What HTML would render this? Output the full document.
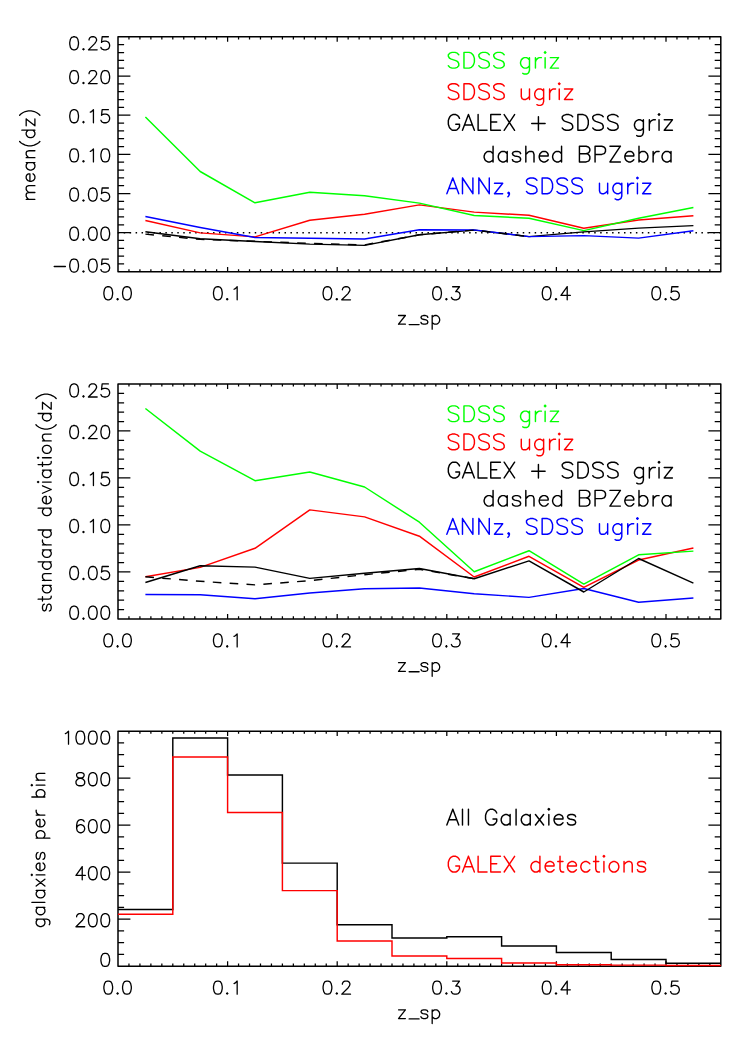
<!DOCTYPE html>
<html lang="en"><head><meta charset="utf-8"><title>Photometric redshift statistics vs z_sp</title>
<style>html,body{margin:0;padding:0;background:#fff;font-family:"Liberation Sans",sans-serif}svg{display:block}.sr{fill:#000;fill-opacity:0;stroke:none;font-family:"Liberation Sans",sans-serif;font-size:18px}</style>
</head><body>
<svg role="img" aria-label="Three stacked plots versus z_sp" width="756" height="1041" viewBox="0 0 756 1041">
<rect width="756" height="1041" fill="#fff"/>
<g id="panel-mean">
<path d="M128.96,271.82v-2.60M128.96,36.85v2.60M139.92,271.82v-2.60M139.92,36.85v2.60M150.88,271.82v-2.60M150.88,36.85v2.60M161.84,271.82v-2.60M161.84,36.85v2.60M172.80,271.82v-2.60M172.80,36.85v2.60M183.76,271.82v-2.60M183.76,36.85v2.60M194.72,271.82v-2.60M194.72,36.85v2.60M205.68,271.82v-2.60M205.68,36.85v2.60M216.64,271.82v-2.60M216.64,36.85v2.60M227.60,271.82v-4.90M227.60,36.85v4.90M238.56,271.82v-2.60M238.56,36.85v2.60M249.52,271.82v-2.60M249.52,36.85v2.60M260.48,271.82v-2.60M260.48,36.85v2.60M271.44,271.82v-2.60M271.44,36.85v2.60M282.40,271.82v-2.60M282.40,36.85v2.60M293.36,271.82v-2.60M293.36,36.85v2.60M304.32,271.82v-2.60M304.32,36.85v2.60M315.28,271.82v-2.60M315.28,36.85v2.60M326.24,271.82v-2.60M326.24,36.85v2.60M337.20,271.82v-4.90M337.20,36.85v4.90M348.16,271.82v-2.60M348.16,36.85v2.60M359.12,271.82v-2.60M359.12,36.85v2.60M370.08,271.82v-2.60M370.08,36.85v2.60M381.04,271.82v-2.60M381.04,36.85v2.60M392.00,271.82v-2.60M392.00,36.85v2.60M402.96,271.82v-2.60M402.96,36.85v2.60M413.92,271.82v-2.60M413.92,36.85v2.60M424.88,271.82v-2.60M424.88,36.85v2.60M435.84,271.82v-2.60M435.84,36.85v2.60M446.80,271.82v-4.90M446.80,36.85v4.90M457.76,271.82v-2.60M457.76,36.85v2.60M468.72,271.82v-2.60M468.72,36.85v2.60M479.68,271.82v-2.60M479.68,36.85v2.60M490.64,271.82v-2.60M490.64,36.85v2.60M501.60,271.82v-2.60M501.60,36.85v2.60M512.56,271.82v-2.60M512.56,36.85v2.60M523.52,271.82v-2.60M523.52,36.85v2.60M534.48,271.82v-2.60M534.48,36.85v2.60M545.44,271.82v-2.60M545.44,36.85v2.60M556.40,271.82v-4.90M556.40,36.85v4.90M567.36,271.82v-2.60M567.36,36.85v2.60M578.32,271.82v-2.60M578.32,36.85v2.60M589.28,271.82v-2.60M589.28,36.85v2.60M600.24,271.82v-2.60M600.24,36.85v2.60M611.20,271.82v-2.60M611.20,36.85v2.60M622.16,271.82v-2.60M622.16,36.85v2.60M633.12,271.82v-2.60M633.12,36.85v2.60M644.08,271.82v-2.60M644.08,36.85v2.60M655.04,271.82v-2.60M655.04,36.85v2.60M666.00,271.82v-4.90M666.00,36.85v4.90M676.96,271.82v-2.60M676.96,36.85v2.60M687.92,271.82v-2.60M687.92,36.85v2.60M698.88,271.82v-2.60M698.88,36.85v2.60M709.84,271.82v-2.60M709.84,36.85v2.60M118.00,263.99h6.10M720.80,263.99h-6.10M118.00,256.16h6.10M720.80,256.16h-6.10M118.00,248.32h6.10M720.80,248.32h-6.10M118.00,240.49h6.10M720.80,240.49h-6.10M118.00,232.66h12.40M720.80,232.66h-12.40M118.00,224.83h6.10M720.80,224.83h-6.10M118.00,216.99h6.10M720.80,216.99h-6.10M118.00,209.16h6.10M720.80,209.16h-6.10M118.00,201.33h6.10M720.80,201.33h-6.10M118.00,193.50h12.40M720.80,193.50h-12.40M118.00,185.66h6.10M720.80,185.66h-6.10M118.00,177.83h6.10M720.80,177.83h-6.10M118.00,170.00h6.10M720.80,170.00h-6.10M118.00,162.17h6.10M720.80,162.17h-6.10M118.00,154.33h12.40M720.80,154.33h-12.40M118.00,146.50h6.10M720.80,146.50h-6.10M118.00,138.67h6.10M720.80,138.67h-6.10M118.00,130.84h6.10M720.80,130.84h-6.10M118.00,123.01h6.10M720.80,123.01h-6.10M118.00,115.17h12.40M720.80,115.17h-12.40M118.00,107.34h6.10M720.80,107.34h-6.10M118.00,99.51h6.10M720.80,99.51h-6.10M118.00,91.68h6.10M720.80,91.68h-6.10M118.00,83.84h6.10M720.80,83.84h-6.10M118.00,76.01h12.40M720.80,76.01h-12.40M118.00,68.18h6.10M720.80,68.18h-6.10M118.00,60.35h6.10M720.80,60.35h-6.10M118.00,52.51h6.10M720.80,52.51h-6.10M118.00,44.68h6.10M720.80,44.68h-6.10" stroke="#000" stroke-width="1.25" fill="none"/>
<rect x="118.0" y="36.85" width="602.80" height="234.97" fill="none" stroke="#000" stroke-width="1.5" stroke-linejoin="round"/>
<path d="M107.63,286.74L105.76,287.36L104.52,289.23L103.89,292.34L103.89,294.21L104.52,297.33L105.76,299.20L107.63,299.82L108.88,299.82L110.75,299.20L111.99,297.33L112.62,294.21L112.62,292.34L111.99,289.23L110.75,287.36L108.88,286.74L107.63,286.74M117.60,298.57L116.98,299.20L117.60,299.82L118.22,299.20L117.60,298.57M126.32,286.74L124.45,287.36L123.21,289.23L122.58,292.34L122.58,294.21L123.21,297.33L124.45,299.20L126.32,299.82L127.57,299.82L129.44,299.20L130.68,297.33L131.31,294.21L131.31,292.34L130.68,289.23L129.44,287.36L127.57,286.74L126.32,286.74M217.23,286.74L215.36,287.36L214.12,289.23L213.49,292.34L213.49,294.21L214.12,297.33L215.36,299.20L217.23,299.82L218.48,299.82L220.35,299.20L221.59,297.33L222.22,294.21L222.22,292.34L221.59,289.23L220.35,287.36L218.48,286.74L217.23,286.74M227.20,298.57L226.58,299.20L227.20,299.82L227.82,299.20L227.20,298.57M234.05,289.23L235.30,288.61L237.17,286.74L237.17,299.82M326.83,286.74L324.96,287.36L323.72,289.23L323.09,292.34L323.09,294.21L323.72,297.33L324.96,299.20L326.83,299.82L328.08,299.82L329.95,299.20L331.19,297.33L331.82,294.21L331.82,292.34L331.19,289.23L329.95,287.36L328.08,286.74L326.83,286.74M336.80,298.57L336.18,299.20L336.80,299.82L337.42,299.20L336.80,298.57M342.41,289.85L342.41,289.23L343.03,287.98L343.65,287.36L344.90,286.74L347.39,286.74L348.64,287.36L349.26,287.98L349.88,289.23L349.88,290.47L349.26,291.72L348.01,293.59L341.78,299.82L350.51,299.82M436.43,286.74L434.56,287.36L433.32,289.23L432.69,292.34L432.69,294.21L433.32,297.33L434.56,299.20L436.43,299.82L437.68,299.82L439.55,299.20L440.79,297.33L441.42,294.21L441.42,292.34L440.79,289.23L439.55,287.36L437.68,286.74L436.43,286.74M446.40,298.57L445.78,299.20L446.40,299.82L447.02,299.20L446.40,298.57M452.63,286.74L459.48,286.74L455.75,291.72L457.61,291.72L458.86,292.34L459.48,292.97L460.11,294.84L460.11,296.08L459.48,297.95L458.24,299.20L456.37,299.82L454.50,299.82L452.63,299.20L452.01,298.57L451.38,297.33M546.03,286.74L544.16,287.36L542.92,289.23L542.29,292.34L542.29,294.21L542.92,297.33L544.16,299.20L546.03,299.82L547.28,299.82L549.15,299.20L550.39,297.33L551.02,294.21L551.02,292.34L550.39,289.23L549.15,287.36L547.28,286.74L546.03,286.74M556.00,298.57L555.38,299.20L556.00,299.82L556.62,299.20L556.00,298.57M567.21,286.74L560.98,295.46L570.33,295.46M567.21,286.74L567.21,299.82M655.63,286.74L653.76,287.36L652.52,289.23L651.89,292.34L651.89,294.21L652.52,297.33L653.76,299.20L655.63,299.82L656.88,299.82L658.75,299.20L659.99,297.33L660.62,294.21L660.62,292.34L659.99,289.23L658.75,287.36L656.88,286.74L655.63,286.74M665.60,298.57L664.98,299.20L665.60,299.82L666.22,299.20L665.60,298.57M678.06,286.74L671.83,286.74L671.21,292.34L671.83,291.72L673.70,291.10L675.57,291.10L677.44,291.72L678.68,292.97L679.31,294.84L679.31,296.08L678.68,297.95L677.44,299.20L675.57,299.82L673.70,299.82L671.83,299.20L671.21,298.57L670.58,297.33M405.39,315.50L398.54,324.22M398.54,315.50L405.39,315.50M398.54,324.22L405.39,324.22M409.13,324.59L419.10,324.59M427.82,317.37L427.20,316.12L425.33,315.50L423.46,315.50L421.59,316.12L420.97,317.37L421.59,318.61L422.84,319.24L425.95,319.86L427.20,320.48L427.82,321.73L427.82,322.35L427.20,323.60L425.33,324.22L423.46,324.22L421.59,323.60L420.97,322.35M432.18,315.50L432.18,329.20M432.18,317.37L433.43,316.12L434.67,315.50L436.54,315.50L437.79,316.12L439.04,317.37L439.66,319.24L439.66,320.48L439.04,322.35L437.79,323.60L436.54,324.22L434.67,324.22L433.43,323.60L432.18,322.35M54.18,266.51L65.40,266.51M73.50,259.04L71.63,259.66L70.38,261.53L69.76,264.64L69.76,266.51L70.38,269.63L71.63,271.50L73.50,272.12L74.74,272.12L76.61,271.50L77.86,269.63L78.48,266.51L78.48,264.64L77.86,261.53L76.61,259.66L74.74,259.04L73.50,259.04M83.47,270.87L82.84,271.50L83.47,272.12L84.09,271.50L83.47,270.87M92.19,259.04L90.32,259.66L89.07,261.53L88.45,264.64L88.45,266.51L89.07,269.63L90.32,271.50L92.19,272.12L93.43,272.12L95.30,271.50L96.55,269.63L97.17,266.51L97.17,264.64L96.55,261.53L95.30,259.66L93.43,259.04L92.19,259.04M108.39,259.04L102.16,259.04L101.53,264.64L102.16,264.02L104.02,263.40L105.89,263.40L107.76,264.02L109.01,265.27L109.63,267.14L109.63,268.38L109.01,270.25L107.76,271.50L105.89,272.12L104.02,272.12L102.16,271.50L101.53,270.87L100.91,269.63M73.50,227.18L71.63,227.80L70.38,229.67L69.76,232.78L69.76,234.65L70.38,237.77L71.63,239.64L73.50,240.26L74.74,240.26L76.61,239.64L77.86,237.77L78.48,234.65L78.48,232.78L77.86,229.67L76.61,227.80L74.74,227.18L73.50,227.18M83.47,239.01L82.84,239.64L83.47,240.26L84.09,239.64L83.47,239.01M92.19,227.18L90.32,227.80L89.07,229.67L88.45,232.78L88.45,234.65L89.07,237.77L90.32,239.64L92.19,240.26L93.43,240.26L95.30,239.64L96.55,237.77L97.17,234.65L97.17,232.78L96.55,229.67L95.30,227.80L93.43,227.18L92.19,227.18M104.65,227.18L102.78,227.80L101.53,229.67L100.91,232.78L100.91,234.65L101.53,237.77L102.78,239.64L104.65,240.26L105.89,240.26L107.76,239.64L109.01,237.77L109.63,234.65L109.63,232.78L109.01,229.67L107.76,227.80L105.89,227.18L104.65,227.18M73.50,188.01L71.63,188.64L70.38,190.51L69.76,193.62L69.76,195.49L70.38,198.60L71.63,200.47L73.50,201.10L74.74,201.10L76.61,200.47L77.86,198.60L78.48,195.49L78.48,193.62L77.86,190.51L76.61,188.64L74.74,188.01L73.50,188.01M83.47,199.85L82.84,200.47L83.47,201.10L84.09,200.47L83.47,199.85M92.19,188.01L90.32,188.64L89.07,190.51L88.45,193.62L88.45,195.49L89.07,198.60L90.32,200.47L92.19,201.10L93.43,201.10L95.30,200.47L96.55,198.60L97.17,195.49L97.17,193.62L96.55,190.51L95.30,188.64L93.43,188.01L92.19,188.01M108.39,188.01L102.16,188.01L101.53,193.62L102.16,193.00L104.02,192.37L105.89,192.37L107.76,193.00L109.01,194.24L109.63,196.11L109.63,197.36L109.01,199.23L107.76,200.47L105.89,201.10L104.02,201.10L102.16,200.47L101.53,199.85L100.91,198.60M73.50,148.85L71.63,149.47L70.38,151.34L69.76,154.46L69.76,156.33L70.38,159.44L71.63,161.31L73.50,161.93L74.74,161.93L76.61,161.31L77.86,159.44L78.48,156.33L78.48,154.46L77.86,151.34L76.61,149.47L74.74,148.85L73.50,148.85M83.47,160.69L82.84,161.31L83.47,161.93L84.09,161.31L83.47,160.69M90.32,151.34L91.56,150.72L93.43,148.85L93.43,161.93M104.65,148.85L102.78,149.47L101.53,151.34L100.91,154.46L100.91,156.33L101.53,159.44L102.78,161.31L104.65,161.93L105.89,161.93L107.76,161.31L109.01,159.44L109.63,156.33L109.63,154.46L109.01,151.34L107.76,149.47L105.89,148.85L104.65,148.85M73.50,109.69L71.63,110.31L70.38,112.18L69.76,115.30L69.76,117.17L70.38,120.28L71.63,122.15L73.50,122.77L74.74,122.77L76.61,122.15L77.86,120.28L78.48,117.17L78.48,115.30L77.86,112.18L76.61,110.31L74.74,109.69L73.50,109.69M83.47,121.53L82.84,122.15L83.47,122.77L84.09,122.15L83.47,121.53M90.32,112.18L91.56,111.56L93.43,109.69L93.43,122.77M108.39,109.69L102.16,109.69L101.53,115.30L102.16,114.67L104.02,114.05L105.89,114.05L107.76,114.67L109.01,115.92L109.63,117.79L109.63,119.04L109.01,120.90L107.76,122.15L105.89,122.77L104.02,122.77L102.16,122.15L101.53,121.53L100.91,120.28M73.50,70.53L71.63,71.15L70.38,73.02L69.76,76.14L69.76,78.00L70.38,81.12L71.63,82.99L73.50,83.61L74.74,83.61L76.61,82.99L77.86,81.12L78.48,78.00L78.48,76.14L77.86,73.02L76.61,71.15L74.74,70.53L73.50,70.53M83.47,82.37L82.84,82.99L83.47,83.61L84.09,82.99L83.47,82.37M89.07,73.64L89.07,73.02L89.69,71.77L90.32,71.15L91.56,70.53L94.06,70.53L95.30,71.15L95.92,71.77L96.55,73.02L96.55,74.27L95.92,75.51L94.68,77.38L88.45,83.61L97.17,83.61M104.65,70.53L102.78,71.15L101.53,73.02L100.91,76.14L100.91,78.00L101.53,81.12L102.78,82.99L104.65,83.61L105.89,83.61L107.76,82.99L109.01,81.12L109.63,78.00L109.63,76.14L109.01,73.02L107.76,71.15L105.89,70.53L104.65,70.53M73.50,36.77L71.63,37.39L70.38,39.26L69.76,42.37L69.76,44.24L70.38,47.36L71.63,49.23L73.50,49.85L74.74,49.85L76.61,49.23L77.86,47.36L78.48,44.24L78.48,42.37L77.86,39.26L76.61,37.39L74.74,36.77L73.50,36.77M83.47,48.60L82.84,49.23L83.47,49.85L84.09,49.23L83.47,48.60M89.07,39.88L89.07,39.26L89.69,38.01L90.32,37.39L91.56,36.77L94.06,36.77L95.30,37.39L95.92,38.01L96.55,39.26L96.55,40.51L95.92,41.75L94.68,43.62L88.45,49.85L97.17,49.85M108.39,36.77L102.16,36.77L101.53,42.37L102.16,41.75L104.02,41.13L105.89,41.13L107.76,41.75L109.01,43.00L109.63,44.87L109.63,46.11L109.01,47.98L107.76,49.23L105.89,49.85L104.02,49.85L102.16,49.23L101.53,48.60L100.91,47.36M26.18,199.37L34.90,199.37M28.67,199.37L26.80,197.50L26.18,196.25L26.18,194.38L26.80,193.14L28.67,192.52L34.90,192.52M28.67,192.52L26.80,190.65L26.18,189.40L26.18,187.53L26.80,186.29L28.67,185.66L34.90,185.66M29.92,181.30L29.92,173.83L28.67,173.83L27.42,174.45L26.80,175.07L26.18,176.32L26.18,178.19L26.80,179.43L28.05,180.68L29.92,181.30L31.16,181.30L33.03,180.68L34.28,179.43L34.90,178.19L34.90,176.32L34.28,175.07L33.03,173.83M26.18,162.61L34.90,162.61M28.05,162.61L26.80,163.86L26.18,165.10L26.18,166.97L26.80,168.22L28.05,169.46L29.92,170.09L31.16,170.09L33.03,169.46L34.28,168.22L34.90,166.97L34.90,165.10L34.28,163.86L33.03,162.61M26.18,157.63L34.90,157.63M28.67,157.63L26.80,155.76L26.18,154.51L26.18,152.64L26.80,151.40L28.67,150.77L34.90,150.77M19.64,141.43L20.88,142.68L22.75,143.92L25.24,145.17L28.36,145.79L31.16,145.79L34.28,145.17L36.77,143.92L38.64,142.68L39.88,141.43M21.82,130.22L34.90,130.22M28.05,130.22L26.80,131.46L26.18,132.71L26.18,134.58L26.80,135.82L28.05,137.07L29.92,137.69L31.16,137.69L33.03,137.07L34.28,135.82L34.90,134.58L34.90,132.71L34.28,131.46L33.03,130.22M26.18,119.00L34.90,125.85M26.18,125.85L26.18,119.00M34.90,125.85L34.90,119.00M19.64,115.26L20.88,114.02L22.75,112.77L25.24,111.53L28.36,110.90L31.16,110.90L34.28,111.53L36.77,112.77L38.64,114.02L39.88,115.26" stroke="#000" stroke-width="1.3" fill="none" stroke-linecap="round" stroke-linejoin="round"/>
<line x1="117.73" y1="232.86" x2="720.80" y2="232.86" stroke="#000" stroke-width="1.5" stroke-dasharray="1.5 4.456"/>
<polyline points="145.40,220.50 200.20,232.90 255.00,236.90 309.80,220.30 364.60,214.20 419.40,204.90 474.20,212.10 529.00,215.30 583.80,228.30 638.60,220.00 693.40,215.80" fill="none" stroke="#ff0000" stroke-width="1.45" stroke-linejoin="round"/>
<polyline points="145.40,116.90 200.20,171.50 255.00,202.80 309.80,192.20 364.60,195.70 419.40,203.10 474.20,215.50 529.00,218.20 583.80,230.60 638.60,218.30 693.40,207.50" fill="none" stroke="#00ff00" stroke-width="1.45" stroke-linejoin="round"/>
<polyline points="145.40,231.80 200.20,238.80 255.00,241.50 309.80,244.10 364.60,245.40 419.40,234.80 474.20,230.10 529.00,236.60 583.80,231.90 638.60,228.10 693.40,225.60" fill="none" stroke="#000000" stroke-width="1.45" stroke-linejoin="round"/>
<polyline points="145.40,216.50 200.20,227.50 255.00,237.50 309.80,238.30 364.60,239.00 419.40,229.80 474.20,229.90 529.00,236.60 583.80,235.60 638.60,238.10 693.40,230.80" fill="none" stroke="#0000ff" stroke-width="1.45" stroke-linejoin="round"/>
<polyline points="145.40,234.10 200.20,239.40 255.00,241.30 309.80,243.40 364.60,244.90 419.40,234.80 474.20,230.10 529.00,236.60" fill="none" stroke="#000000" stroke-width="1.45" stroke-linejoin="round" stroke-dasharray="8.6 8.3"/>
<path d="M458.76,54.64L457.27,53.14L455.03,52.39L452.06,52.39L449.82,53.14L448.33,54.64L448.33,56.13L449.08,57.63L449.82,58.38L451.31,59.12L455.78,60.62L457.27,61.37L458.01,62.12L458.76,63.61L458.76,65.86L457.27,67.35L455.03,68.10L452.06,68.10L449.82,67.35L448.33,65.86M463.97,52.39L463.97,68.10M463.97,52.39L469.18,52.39L471.41,53.14L472.90,54.64L473.65,56.13L474.39,58.38L474.39,62.12L473.65,64.36L472.90,65.86L471.41,67.35L469.18,68.10L463.97,68.10M489.28,54.64L487.79,53.14L485.56,52.39L482.58,52.39L480.35,53.14L478.86,54.64L478.86,56.13L479.60,57.63L480.35,58.38L481.84,59.12L486.30,60.62L487.79,61.37L488.54,62.12L489.28,63.61L489.28,65.86L487.79,67.35L485.56,68.10L482.58,68.10L480.35,67.35L478.86,65.86M504.17,54.64L502.68,53.14L500.45,52.39L497.47,52.39L495.24,53.14L493.75,54.64L493.75,56.13L494.49,57.63L495.24,58.38L496.73,59.12L501.19,60.62L502.68,61.37L503.43,62.12L504.17,63.61L504.17,65.86L502.68,67.35L500.45,68.10L497.47,68.10L495.24,67.35L493.75,65.86M529.48,57.63L529.48,70.34L528.74,72.59L528.00,73.34L526.51,74.08L524.27,74.08L522.78,73.34M529.48,59.87L528.00,58.38L526.51,57.63L524.27,57.63L522.78,58.38L521.29,59.87L520.55,62.12L520.55,63.61L521.29,65.86L522.78,67.35L524.27,68.10L526.51,68.10L528.00,67.35L529.48,65.86M535.44,57.63L535.44,68.10M535.44,62.12L536.18,59.87L537.67,58.38L539.16,57.63L541.40,57.63M544.37,52.39L545.12,53.14L545.86,52.39L545.12,51.64L544.37,52.39M545.12,57.63L545.12,68.10M558.52,57.63L550.33,68.10M550.33,57.63L558.52,57.63M550.33,68.10L558.52,68.10" stroke="#00ff00" stroke-width="1.45" fill="none" stroke-linecap="round" stroke-linejoin="round"/>
<path d="M458.76,85.94L457.27,84.44L455.03,83.69L452.06,83.69L449.82,84.44L448.33,85.94L448.33,87.43L449.08,88.93L449.82,89.68L451.31,90.42L455.78,91.92L457.27,92.67L458.01,93.42L458.76,94.91L458.76,97.16L457.27,98.65L455.03,99.40L452.06,99.40L449.82,98.65L448.33,97.16M463.97,83.69L463.97,99.40M463.97,83.69L469.18,83.69L471.41,84.44L472.90,85.94L473.65,87.43L474.39,89.68L474.39,93.42L473.65,95.66L472.90,97.16L471.41,98.65L469.18,99.40L463.97,99.40M489.28,85.94L487.79,84.44L485.56,83.69L482.58,83.69L480.35,84.44L478.86,85.94L478.86,87.43L479.60,88.93L480.35,89.68L481.84,90.42L486.30,91.92L487.79,92.67L488.54,93.42L489.28,94.91L489.28,97.16L487.79,98.65L485.56,99.40L482.58,99.40L480.35,98.65L478.86,97.16M504.17,85.94L502.68,84.44L500.45,83.69L497.47,83.69L495.24,84.44L493.75,85.94L493.75,87.43L494.49,88.93L495.24,89.68L496.73,90.42L501.19,91.92L502.68,92.67L503.43,93.42L504.17,94.91L504.17,97.16L502.68,98.65L500.45,99.40L497.47,99.40L495.24,98.65L493.75,97.16M521.29,88.93L521.29,96.41L522.04,98.65L523.53,99.40L525.76,99.40L527.25,98.65L529.48,96.41M529.48,88.93L529.48,99.40M543.63,88.93L543.63,101.64L542.88,103.89L542.14,104.64L540.65,105.38L538.42,105.38L536.93,104.64M543.63,91.17L542.14,89.68L540.65,88.93L538.42,88.93L536.93,89.68L535.44,91.17L534.70,93.42L534.70,94.91L535.44,97.16L536.93,98.65L538.42,99.40L540.65,99.40L542.14,98.65L543.63,97.16M549.59,88.93L549.59,99.40M549.59,93.42L550.33,91.17L551.82,89.68L553.31,88.93L555.54,88.93M558.52,83.69L559.26,84.44L560.01,83.69L559.26,82.94L558.52,83.69M559.26,88.93L559.26,99.40M572.67,88.93L564.48,99.40M564.48,88.93L572.67,88.93M564.48,99.40L572.67,99.40" stroke="#ff0000" stroke-width="1.45" fill="none" stroke-linecap="round" stroke-linejoin="round"/>
<path d="M459.50,118.33L458.76,116.84L457.27,115.34L455.78,114.59L452.80,114.59L451.31,115.34L449.82,116.84L449.08,118.33L448.33,120.58L448.33,124.32L449.08,126.56L449.82,128.06L451.31,129.55L452.80,130.30L455.78,130.30L457.27,129.55L458.76,128.06L459.50,126.56L459.50,124.32M455.78,124.32L459.50,124.32M468.44,114.59L462.48,130.30M468.44,114.59L474.39,130.30M464.71,125.06L472.16,125.06M478.11,114.59L478.11,130.30M478.11,130.30L487.05,130.30M490.77,114.59L490.77,130.30M490.77,114.59L500.45,114.59M490.77,122.07L496.73,122.07M490.77,130.30L500.45,130.30M504.17,114.59L514.59,130.30M514.59,114.59L504.17,130.30M538.42,116.84L538.42,130.30M531.72,123.57L545.12,123.57M572.67,116.84L571.18,115.34L568.94,114.59L565.96,114.59L563.73,115.34L562.24,116.84L562.24,118.33L562.99,119.83L563.73,120.58L565.22,121.32L569.69,122.82L571.18,123.57L571.92,124.32L572.67,125.81L572.67,128.06L571.18,129.55L568.94,130.30L565.96,130.30L563.73,129.55L562.24,128.06M577.88,114.59L577.88,130.30M577.88,114.59L583.09,114.59L585.32,115.34L586.81,116.84L587.56,118.33L588.30,120.58L588.30,124.32L587.56,126.56L586.81,128.06L585.32,129.55L583.09,130.30L577.88,130.30M603.19,116.84L601.70,115.34L599.47,114.59L596.49,114.59L594.26,115.34L592.77,116.84L592.77,118.33L593.51,119.83L594.26,120.58L595.74,121.32L600.21,122.82L601.70,123.57L602.45,124.32L603.19,125.81L603.19,128.06L601.70,129.55L599.47,130.30L596.49,130.30L594.26,129.55L592.77,128.06M618.08,116.84L616.59,115.34L614.36,114.59L611.38,114.59L609.15,115.34L607.66,116.84L607.66,118.33L608.40,119.83L609.15,120.58L610.63,121.32L615.10,122.82L616.59,123.57L617.34,124.32L618.08,125.81L618.08,128.06L616.59,129.55L614.36,130.30L611.38,130.30L609.15,129.55L607.66,128.06M643.39,119.83L643.39,132.54L642.65,134.79L641.90,135.54L640.41,136.28L638.18,136.28L636.69,135.54M643.39,122.07L641.90,120.58L640.41,119.83L638.18,119.83L636.69,120.58L635.20,122.07L634.46,124.32L634.46,125.81L635.20,128.06L636.69,129.55L638.18,130.30L640.41,130.30L641.90,129.55L643.39,128.06M649.35,119.83L649.35,130.30M649.35,124.32L650.09,122.07L651.58,120.58L653.07,119.83L655.30,119.83M658.28,114.59L659.03,115.34L659.77,114.59L659.03,113.84L658.28,114.59M659.03,119.83L659.03,130.30M672.43,119.83L664.24,130.30M664.24,119.83L672.43,119.83M664.24,130.30L672.43,130.30" stroke="#000000" stroke-width="1.45" fill="none" stroke-linecap="round" stroke-linejoin="round"/>
<path d="M493.07,146.19L493.07,161.90M493.07,153.67L491.58,152.18L490.09,151.43L487.86,151.43L486.37,152.18L484.88,153.67L484.13,155.92L484.13,157.41L484.88,159.66L486.37,161.15L487.86,161.90L490.09,161.90L491.58,161.15L493.07,159.66M507.21,151.43L507.21,161.90M507.21,153.67L505.72,152.18L504.23,151.43L502.00,151.43L500.51,152.18L499.02,153.67L498.28,155.92L498.28,157.41L499.02,159.66L500.51,161.15L502.00,161.90L504.23,161.90L505.72,161.15L507.21,159.66M520.61,153.67L519.87,152.18L517.64,151.43L515.40,151.43L513.17,152.18L512.42,153.67L513.17,155.17L514.66,155.92L518.38,156.66L519.87,157.41L520.61,158.91L520.61,159.66L519.87,161.15L517.64,161.90L515.40,161.90L513.17,161.15L512.42,159.66M525.83,146.19L525.83,161.90M525.83,154.42L528.06,152.18L529.55,151.43L531.78,151.43L533.27,152.18L534.01,154.42L534.01,161.90M539.23,155.92L548.16,155.92L548.16,154.42L547.42,152.92L546.67,152.18L545.18,151.43L542.95,151.43L541.46,152.18L539.97,153.67L539.23,155.92L539.23,157.41L539.97,159.66L541.46,161.15L542.95,161.90L545.18,161.90L546.67,161.15L548.16,159.66M561.56,146.19L561.56,161.90M561.56,153.67L560.07,152.18L558.58,151.43L556.35,151.43L554.86,152.18L553.37,153.67L552.63,155.92L552.63,157.41L553.37,159.66L554.86,161.15L556.35,161.90L558.58,161.90L560.07,161.15L561.56,159.66M579.43,146.19L579.43,161.90M579.43,146.19L586.13,146.19L588.36,146.94L589.11,147.69L589.85,149.18L589.85,150.68L589.11,152.18L588.36,152.92L586.13,153.67M579.43,153.67L586.13,153.67L588.36,154.42L589.11,155.17L589.85,156.66L589.85,158.91L589.11,160.40L588.36,161.15L586.13,161.90L579.43,161.90M595.06,146.19L595.06,161.90M595.06,146.19L601.76,146.19L604.00,146.94L604.74,147.69L605.49,149.18L605.49,151.43L604.74,152.92L604.00,153.67L601.76,154.42L595.06,154.42M620.38,146.19L609.95,161.90M609.95,146.19L620.38,146.19M609.95,161.90L620.38,161.90M624.84,155.92L633.78,155.92L633.78,154.42L633.03,152.92L632.29,152.18L630.80,151.43L628.57,151.43L627.08,152.18L625.59,153.67L624.84,155.92L624.84,157.41L625.59,159.66L627.08,161.15L628.57,161.90L630.80,161.90L632.29,161.15L633.78,159.66M638.99,146.19L638.99,161.90M638.99,153.67L640.48,152.18L641.97,151.43L644.20,151.43L645.69,152.18L647.18,153.67L647.92,155.92L647.92,157.41L647.18,159.66L645.69,161.15L644.20,161.90L641.97,161.90L640.48,161.15L638.99,159.66M653.13,151.43L653.13,161.90M653.13,155.92L653.88,153.67L655.37,152.18L656.86,151.43L659.09,151.43M671.00,151.43L671.00,161.90M671.00,153.67L669.51,152.18L668.02,151.43L665.79,151.43L664.30,152.18L662.81,153.67L662.07,155.92L662.07,157.41L662.81,159.66L664.30,161.15L665.79,161.90L668.02,161.90L669.51,161.15L671.00,159.66" stroke="#000000" stroke-width="1.45" fill="none" stroke-linecap="round" stroke-linejoin="round"/>
<path d="M452.80,177.99L446.84,193.70M452.80,177.99L458.76,193.70M449.08,188.46L456.52,188.46M462.48,177.99L462.48,193.70M462.48,177.99L472.90,193.70M472.90,177.99L472.90,193.70M478.86,177.99L478.86,193.70M478.86,177.99L489.28,193.70M489.28,177.99L489.28,193.70M502.68,183.23L494.49,193.70M494.49,183.23L502.68,183.23M494.49,193.70L502.68,193.70M509.38,192.95L508.64,193.70L507.89,192.95L508.64,192.20L509.38,192.95L509.38,194.45L508.64,195.94L507.89,196.69M536.93,180.24L535.44,178.74L533.21,177.99L530.23,177.99L528.00,178.74L526.51,180.24L526.51,181.73L527.25,183.23L528.00,183.98L529.48,184.72L533.95,186.22L535.44,186.97L536.18,187.72L536.93,189.21L536.93,191.46L535.44,192.95L533.21,193.70L530.23,193.70L528.00,192.95L526.51,191.46M542.14,177.99L542.14,193.70M542.14,177.99L547.35,177.99L549.59,178.74L551.07,180.24L551.82,181.73L552.56,183.98L552.56,187.72L551.82,189.96L551.07,191.46L549.59,192.95L547.35,193.70L542.14,193.70M567.45,180.24L565.96,178.74L563.73,177.99L560.75,177.99L558.52,178.74L557.03,180.24L557.03,181.73L557.78,183.23L558.52,183.98L560.01,184.72L564.48,186.22L565.96,186.97L566.71,187.72L567.45,189.21L567.45,191.46L565.96,192.95L563.73,193.70L560.75,193.70L558.52,192.95L557.03,191.46M582.34,180.24L580.85,178.74L578.62,177.99L575.64,177.99L573.41,178.74L571.92,180.24L571.92,181.73L572.67,183.23L573.41,183.98L574.90,184.72L579.37,186.22L580.85,186.97L581.60,187.72L582.34,189.21L582.34,191.46L580.85,192.95L578.62,193.70L575.64,193.70L573.41,192.95L571.92,191.46M599.47,183.23L599.47,190.71L600.21,192.95L601.70,193.70L603.93,193.70L605.42,192.95L607.66,190.71M607.66,183.23L607.66,193.70M621.80,183.23L621.80,195.94L621.06,198.19L620.31,198.94L618.82,199.68L616.59,199.68L615.10,198.94M621.80,185.47L620.31,183.98L618.82,183.23L616.59,183.23L615.10,183.98L613.61,185.47L612.87,187.72L612.87,189.21L613.61,191.46L615.10,192.95L616.59,193.70L618.82,193.70L620.31,192.95L621.80,191.46M627.76,183.23L627.76,193.70M627.76,187.72L628.50,185.47L629.99,183.98L631.48,183.23L633.71,183.23M636.69,177.99L637.44,178.74L638.18,177.99L637.44,177.24L636.69,177.99M637.44,183.23L637.44,193.70M650.84,183.23L642.65,193.70M642.65,183.23L650.84,183.23M642.65,193.70L650.84,193.70" stroke="#0000ff" stroke-width="1.45" fill="none" stroke-linecap="round" stroke-linejoin="round"/>
</g>
<g id="panel-std">
<path d="M128.96,618.97v-2.60M128.96,384.00v2.60M139.92,618.97v-2.60M139.92,384.00v2.60M150.88,618.97v-2.60M150.88,384.00v2.60M161.84,618.97v-2.60M161.84,384.00v2.60M172.80,618.97v-2.60M172.80,384.00v2.60M183.76,618.97v-2.60M183.76,384.00v2.60M194.72,618.97v-2.60M194.72,384.00v2.60M205.68,618.97v-2.60M205.68,384.00v2.60M216.64,618.97v-2.60M216.64,384.00v2.60M227.60,618.97v-4.90M227.60,384.00v4.90M238.56,618.97v-2.60M238.56,384.00v2.60M249.52,618.97v-2.60M249.52,384.00v2.60M260.48,618.97v-2.60M260.48,384.00v2.60M271.44,618.97v-2.60M271.44,384.00v2.60M282.40,618.97v-2.60M282.40,384.00v2.60M293.36,618.97v-2.60M293.36,384.00v2.60M304.32,618.97v-2.60M304.32,384.00v2.60M315.28,618.97v-2.60M315.28,384.00v2.60M326.24,618.97v-2.60M326.24,384.00v2.60M337.20,618.97v-4.90M337.20,384.00v4.90M348.16,618.97v-2.60M348.16,384.00v2.60M359.12,618.97v-2.60M359.12,384.00v2.60M370.08,618.97v-2.60M370.08,384.00v2.60M381.04,618.97v-2.60M381.04,384.00v2.60M392.00,618.97v-2.60M392.00,384.00v2.60M402.96,618.97v-2.60M402.96,384.00v2.60M413.92,618.97v-2.60M413.92,384.00v2.60M424.88,618.97v-2.60M424.88,384.00v2.60M435.84,618.97v-2.60M435.84,384.00v2.60M446.80,618.97v-4.90M446.80,384.00v4.90M457.76,618.97v-2.60M457.76,384.00v2.60M468.72,618.97v-2.60M468.72,384.00v2.60M479.68,618.97v-2.60M479.68,384.00v2.60M490.64,618.97v-2.60M490.64,384.00v2.60M501.60,618.97v-2.60M501.60,384.00v2.60M512.56,618.97v-2.60M512.56,384.00v2.60M523.52,618.97v-2.60M523.52,384.00v2.60M534.48,618.97v-2.60M534.48,384.00v2.60M545.44,618.97v-2.60M545.44,384.00v2.60M556.40,618.97v-4.90M556.40,384.00v4.90M567.36,618.97v-2.60M567.36,384.00v2.60M578.32,618.97v-2.60M578.32,384.00v2.60M589.28,618.97v-2.60M589.28,384.00v2.60M600.24,618.97v-2.60M600.24,384.00v2.60M611.20,618.97v-2.60M611.20,384.00v2.60M622.16,618.97v-2.60M622.16,384.00v2.60M633.12,618.97v-2.60M633.12,384.00v2.60M644.08,618.97v-2.60M644.08,384.00v2.60M655.04,618.97v-2.60M655.04,384.00v2.60M666.00,618.97v-4.90M666.00,384.00v4.90M676.96,618.97v-2.60M676.96,384.00v2.60M687.92,618.97v-2.60M687.92,384.00v2.60M698.88,618.97v-2.60M698.88,384.00v2.60M709.84,618.97v-2.60M709.84,384.00v2.60M118.00,609.57h6.10M720.80,609.57h-6.10M118.00,600.17h6.10M720.80,600.17h-6.10M118.00,590.77h6.10M720.80,590.77h-6.10M118.00,581.37h6.10M720.80,581.37h-6.10M118.00,571.98h12.40M720.80,571.98h-12.40M118.00,562.58h6.10M720.80,562.58h-6.10M118.00,553.18h6.10M720.80,553.18h-6.10M118.00,543.78h6.10M720.80,543.78h-6.10M118.00,534.38h6.10M720.80,534.38h-6.10M118.00,524.98h12.40M720.80,524.98h-12.40M118.00,515.58h6.10M720.80,515.58h-6.10M118.00,506.18h6.10M720.80,506.18h-6.10M118.00,496.79h6.10M720.80,496.79h-6.10M118.00,487.39h6.10M720.80,487.39h-6.10M118.00,477.99h12.40M720.80,477.99h-12.40M118.00,468.59h6.10M720.80,468.59h-6.10M118.00,459.19h6.10M720.80,459.19h-6.10M118.00,449.79h6.10M720.80,449.79h-6.10M118.00,440.39h6.10M720.80,440.39h-6.10M118.00,430.99h12.40M720.80,430.99h-12.40M118.00,421.60h6.10M720.80,421.60h-6.10M118.00,412.20h6.10M720.80,412.20h-6.10M118.00,402.80h6.10M720.80,402.80h-6.10M118.00,393.40h6.10M720.80,393.40h-6.10" stroke="#000" stroke-width="1.25" fill="none"/>
<rect x="118.0" y="384.0" width="602.80" height="234.97" fill="none" stroke="#000" stroke-width="1.5" stroke-linejoin="round"/>
<path d="M107.63,633.89L105.76,634.51L104.52,636.38L103.89,639.49L103.89,641.36L104.52,644.48L105.76,646.35L107.63,646.97L108.88,646.97L110.75,646.35L111.99,644.48L112.62,641.36L112.62,639.49L111.99,636.38L110.75,634.51L108.88,633.89L107.63,633.89M117.60,645.72L116.98,646.35L117.60,646.97L118.22,646.35L117.60,645.72M126.32,633.89L124.45,634.51L123.21,636.38L122.58,639.49L122.58,641.36L123.21,644.48L124.45,646.35L126.32,646.97L127.57,646.97L129.44,646.35L130.68,644.48L131.31,641.36L131.31,639.49L130.68,636.38L129.44,634.51L127.57,633.89L126.32,633.89M217.23,633.89L215.36,634.51L214.12,636.38L213.49,639.49L213.49,641.36L214.12,644.48L215.36,646.35L217.23,646.97L218.48,646.97L220.35,646.35L221.59,644.48L222.22,641.36L222.22,639.49L221.59,636.38L220.35,634.51L218.48,633.89L217.23,633.89M227.20,645.72L226.58,646.35L227.20,646.97L227.82,646.35L227.20,645.72M234.05,636.38L235.30,635.76L237.17,633.89L237.17,646.97M326.83,633.89L324.96,634.51L323.72,636.38L323.09,639.49L323.09,641.36L323.72,644.48L324.96,646.35L326.83,646.97L328.08,646.97L329.95,646.35L331.19,644.48L331.82,641.36L331.82,639.49L331.19,636.38L329.95,634.51L328.08,633.89L326.83,633.89M336.80,645.72L336.18,646.35L336.80,646.97L337.42,646.35L336.80,645.72M342.41,637.00L342.41,636.38L343.03,635.13L343.65,634.51L344.90,633.89L347.39,633.89L348.64,634.51L349.26,635.13L349.88,636.38L349.88,637.62L349.26,638.87L348.01,640.74L341.78,646.97L350.51,646.97M436.43,633.89L434.56,634.51L433.32,636.38L432.69,639.49L432.69,641.36L433.32,644.48L434.56,646.35L436.43,646.97L437.68,646.97L439.55,646.35L440.79,644.48L441.42,641.36L441.42,639.49L440.79,636.38L439.55,634.51L437.68,633.89L436.43,633.89M446.40,645.72L445.78,646.35L446.40,646.97L447.02,646.35L446.40,645.72M452.63,633.89L459.48,633.89L455.75,638.87L457.61,638.87L458.86,639.49L459.48,640.12L460.11,641.99L460.11,643.23L459.48,645.10L458.24,646.35L456.37,646.97L454.50,646.97L452.63,646.35L452.01,645.72L451.38,644.48M546.03,633.89L544.16,634.51L542.92,636.38L542.29,639.49L542.29,641.36L542.92,644.48L544.16,646.35L546.03,646.97L547.28,646.97L549.15,646.35L550.39,644.48L551.02,641.36L551.02,639.49L550.39,636.38L549.15,634.51L547.28,633.89L546.03,633.89M556.00,645.72L555.38,646.35L556.00,646.97L556.62,646.35L556.00,645.72M567.21,633.89L560.98,642.61L570.33,642.61M567.21,633.89L567.21,646.97M655.63,633.89L653.76,634.51L652.52,636.38L651.89,639.49L651.89,641.36L652.52,644.48L653.76,646.35L655.63,646.97L656.88,646.97L658.75,646.35L659.99,644.48L660.62,641.36L660.62,639.49L659.99,636.38L658.75,634.51L656.88,633.89L655.63,633.89M665.60,645.72L664.98,646.35L665.60,646.97L666.22,646.35L665.60,645.72M678.06,633.89L671.83,633.89L671.21,639.49L671.83,638.87L673.70,638.25L675.57,638.25L677.44,638.87L678.68,640.12L679.31,641.99L679.31,643.23L678.68,645.10L677.44,646.35L675.57,646.97L673.70,646.97L671.83,646.35L671.21,645.72L670.58,644.48M405.39,662.65L398.54,671.37M398.54,662.65L405.39,662.65M398.54,671.37L405.39,671.37M409.13,671.74L419.10,671.74M427.82,664.52L427.20,663.27L425.33,662.65L423.46,662.65L421.59,663.27L420.97,664.52L421.59,665.76L422.84,666.39L425.95,667.01L427.20,667.63L427.82,668.88L427.82,669.50L427.20,670.75L425.33,671.37L423.46,671.37L421.59,670.75L420.97,669.50M432.18,662.65L432.18,676.35M432.18,664.52L433.43,663.27L434.67,662.65L436.54,662.65L437.79,663.27L439.04,664.52L439.66,666.39L439.66,667.63L439.04,669.50L437.79,670.75L436.54,671.37L434.67,671.37L433.43,670.75L432.18,669.50M73.50,606.19L71.63,606.81L70.38,608.68L69.76,611.79L69.76,613.66L70.38,616.78L71.63,618.65L73.50,619.27L74.74,619.27L76.61,618.65L77.86,616.78L78.48,613.66L78.48,611.79L77.86,608.68L76.61,606.81L74.74,606.19L73.50,606.19M83.47,618.02L82.84,618.65L83.47,619.27L84.09,618.65L83.47,618.02M92.19,606.19L90.32,606.81L89.07,608.68L88.45,611.79L88.45,613.66L89.07,616.78L90.32,618.65L92.19,619.27L93.43,619.27L95.30,618.65L96.55,616.78L97.17,613.66L97.17,611.79L96.55,608.68L95.30,606.81L93.43,606.19L92.19,606.19M104.65,606.19L102.78,606.81L101.53,608.68L100.91,611.79L100.91,613.66L101.53,616.78L102.78,618.65L104.65,619.27L105.89,619.27L107.76,618.65L109.01,616.78L109.63,613.66L109.63,611.79L109.01,608.68L107.76,606.81L105.89,606.19L104.65,606.19M73.50,566.49L71.63,567.12L70.38,568.99L69.76,572.10L69.76,573.97L70.38,577.08L71.63,578.95L73.50,579.58L74.74,579.58L76.61,578.95L77.86,577.08L78.48,573.97L78.48,572.10L77.86,568.99L76.61,567.12L74.74,566.49L73.50,566.49M83.47,578.33L82.84,578.95L83.47,579.58L84.09,578.95L83.47,578.33M92.19,566.49L90.32,567.12L89.07,568.99L88.45,572.10L88.45,573.97L89.07,577.08L90.32,578.95L92.19,579.58L93.43,579.58L95.30,578.95L96.55,577.08L97.17,573.97L97.17,572.10L96.55,568.99L95.30,567.12L93.43,566.49L92.19,566.49M108.39,566.49L102.16,566.49L101.53,572.10L102.16,571.48L104.02,570.85L105.89,570.85L107.76,571.48L109.01,572.72L109.63,574.59L109.63,575.84L109.01,577.71L107.76,578.95L105.89,579.58L104.02,579.58L102.16,578.95L101.53,578.33L100.91,577.08M73.50,519.50L71.63,520.12L70.38,521.99L69.76,525.11L69.76,526.98L70.38,530.09L71.63,531.96L73.50,532.58L74.74,532.58L76.61,531.96L77.86,530.09L78.48,526.98L78.48,525.11L77.86,521.99L76.61,520.12L74.74,519.50L73.50,519.50M83.47,531.34L82.84,531.96L83.47,532.58L84.09,531.96L83.47,531.34M90.32,521.99L91.56,521.37L93.43,519.50L93.43,532.58M104.65,519.50L102.78,520.12L101.53,521.99L100.91,525.11L100.91,526.98L101.53,530.09L102.78,531.96L104.65,532.58L105.89,532.58L107.76,531.96L109.01,530.09L109.63,526.98L109.63,525.11L109.01,521.99L107.76,520.12L105.89,519.50L104.65,519.50M73.50,472.51L71.63,473.13L70.38,475.00L69.76,478.11L69.76,479.98L70.38,483.10L71.63,484.97L73.50,485.59L74.74,485.59L76.61,484.97L77.86,483.10L78.48,479.98L78.48,478.11L77.86,475.00L76.61,473.13L74.74,472.51L73.50,472.51M83.47,484.34L82.84,484.97L83.47,485.59L84.09,484.97L83.47,484.34M90.32,475.00L91.56,474.37L93.43,472.51L93.43,485.59M108.39,472.51L102.16,472.51L101.53,478.11L102.16,477.49L104.02,476.87L105.89,476.87L107.76,477.49L109.01,478.74L109.63,480.60L109.63,481.85L109.01,483.72L107.76,484.97L105.89,485.59L104.02,485.59L102.16,484.97L101.53,484.34L100.91,483.10M73.50,425.51L71.63,426.13L70.38,428.00L69.76,431.12L69.76,432.99L70.38,436.10L71.63,437.97L73.50,438.59L74.74,438.59L76.61,437.97L77.86,436.10L78.48,432.99L78.48,431.12L77.86,428.00L76.61,426.13L74.74,425.51L73.50,425.51M83.47,437.35L82.84,437.97L83.47,438.59L84.09,437.97L83.47,437.35M89.07,428.63L89.07,428.00L89.69,426.76L90.32,426.13L91.56,425.51L94.06,425.51L95.30,426.13L95.92,426.76L96.55,428.00L96.55,429.25L95.92,430.50L94.68,432.36L88.45,438.59L97.17,438.59M104.65,425.51L102.78,426.13L101.53,428.00L100.91,431.12L100.91,432.99L101.53,436.10L102.78,437.97L104.65,438.59L105.89,438.59L107.76,437.97L109.01,436.10L109.63,432.99L109.63,431.12L109.01,428.00L107.76,426.13L105.89,425.51L104.65,425.51M73.50,383.92L71.63,384.54L70.38,386.41L69.76,389.52L69.76,391.39L70.38,394.51L71.63,396.38L73.50,397.00L74.74,397.00L76.61,396.38L77.86,394.51L78.48,391.39L78.48,389.52L77.86,386.41L76.61,384.54L74.74,383.92L73.50,383.92M83.47,395.75L82.84,396.38L83.47,397.00L84.09,396.38L83.47,395.75M89.07,387.03L89.07,386.41L89.69,385.16L90.32,384.54L91.56,383.92L94.06,383.92L95.30,384.54L95.92,385.16L96.55,386.41L96.55,387.65L95.92,388.90L94.68,390.77L88.45,397.00L97.17,397.00M108.39,383.92L102.16,383.92L101.53,389.52L102.16,388.90L104.02,388.28L105.89,388.28L107.76,388.90L109.01,390.15L109.63,392.02L109.63,393.26L109.01,395.13L107.76,396.38L105.89,397.00L104.02,397.00L102.16,396.38L101.53,395.75L100.91,394.51M44.35,604.15L43.10,604.77L42.48,606.64L42.48,608.51L43.10,610.38L44.35,611.00L45.59,610.38L46.22,609.13L46.84,606.01L47.46,604.77L48.71,604.15L49.33,604.15L50.58,604.77L51.20,606.64L51.20,608.51L50.58,610.38L49.33,611.00M38.12,599.16L48.71,599.16L50.58,598.54L51.20,597.29L51.20,596.05M42.48,601.03L42.48,596.67M42.48,585.46L51.20,585.46M44.35,585.46L43.10,586.70L42.48,587.95L42.48,589.82L43.10,591.06L44.35,592.31L46.22,592.93L47.46,592.93L49.33,592.31L50.58,591.06L51.20,589.82L51.20,587.95L50.58,586.70L49.33,585.46M42.48,580.47L51.20,580.47M44.97,580.47L43.10,578.60L42.48,577.36L42.48,575.49L43.10,574.24L44.97,573.62L51.20,573.62M38.12,561.78L51.20,561.78M44.35,561.78L43.10,563.03L42.48,564.27L42.48,566.14L43.10,567.39L44.35,568.63L46.22,569.26L47.46,569.26L49.33,568.63L50.58,567.39L51.20,566.14L51.20,564.27L50.58,563.03L49.33,561.78M42.48,549.94L51.20,549.94M44.35,549.94L43.10,551.19L42.48,552.44L42.48,554.31L43.10,555.55L44.35,556.80L46.22,557.42L47.46,557.42L49.33,556.80L50.58,555.55L51.20,554.31L51.20,552.44L50.58,551.19L49.33,549.94M42.48,544.96L51.20,544.96M46.22,544.96L44.35,544.34L43.10,543.09L42.48,541.85L42.48,539.98M38.12,530.01L51.20,530.01M44.35,530.01L43.10,531.25L42.48,532.50L42.48,534.37L43.10,535.62L44.35,536.86L46.22,537.48L47.46,537.48L49.33,536.86L50.58,535.62L51.20,534.37L51.20,532.50L50.58,531.25L49.33,530.01M38.12,508.20L51.20,508.20M44.35,508.20L43.10,509.45L42.48,510.70L42.48,512.56L43.10,513.81L44.35,515.06L46.22,515.68L47.46,515.68L49.33,515.06L50.58,513.81L51.20,512.56L51.20,510.70L50.58,509.45L49.33,508.20M46.22,503.84L46.22,496.37L44.97,496.37L43.72,496.99L43.10,497.61L42.48,498.86L42.48,500.73L43.10,501.97L44.35,503.22L46.22,503.84L47.46,503.84L49.33,503.22L50.58,501.97L51.20,500.73L51.20,498.86L50.58,497.61L49.33,496.37M42.48,493.25L51.20,489.51M42.48,485.78L51.20,489.51M38.12,482.66L38.74,482.04L38.12,481.41L37.49,482.04L38.12,482.66M42.48,482.04L51.20,482.04M42.48,470.20L51.20,470.20M44.35,470.20L43.10,471.45L42.48,472.69L42.48,474.56L43.10,475.81L44.35,477.05L46.22,477.68L47.46,477.68L49.33,477.05L50.58,475.81L51.20,474.56L51.20,472.69L50.58,471.45L49.33,470.20M38.12,464.59L48.71,464.59L50.58,463.97L51.20,462.72L51.20,461.48M42.48,466.46L42.48,462.10M38.12,458.36L38.74,457.74L38.12,457.12L37.49,457.74L38.12,458.36M42.48,457.74L51.20,457.74M42.48,450.26L43.10,451.51L44.35,452.76L46.22,453.38L47.46,453.38L49.33,452.76L50.58,451.51L51.20,450.26L51.20,448.40L50.58,447.15L49.33,445.90L47.46,445.28L46.22,445.28L44.35,445.90L43.10,447.15L42.48,448.40L42.48,450.26M42.48,440.92L51.20,440.92M44.97,440.92L43.10,439.05L42.48,437.80L42.48,435.94L43.10,434.69L44.97,434.07L51.20,434.07M35.94,424.72L37.18,425.97L39.05,427.21L41.54,428.46L44.66,429.08L47.46,429.08L50.58,428.46L53.07,427.21L54.94,425.97L56.18,424.72M38.12,413.51L51.20,413.51M44.35,413.51L43.10,414.75L42.48,416.00L42.48,417.87L43.10,419.11L44.35,420.36L46.22,420.98L47.46,420.98L49.33,420.36L50.58,419.11L51.20,417.87L51.20,416.00L50.58,414.75L49.33,413.51M42.48,402.29L51.20,409.15M42.48,409.15L42.48,402.29M51.20,409.15L51.20,402.29M35.94,398.56L37.18,397.31L39.05,396.06L41.54,394.82L44.66,394.19L47.46,394.19L50.58,394.82L53.07,396.06L54.94,397.31L56.18,398.56" stroke="#000" stroke-width="1.3" fill="none" stroke-linecap="round" stroke-linejoin="round"/>
<polyline points="145.40,594.40 200.20,594.80 255.00,598.80 309.80,593.00 364.60,588.80 419.40,588.00 474.20,593.70 529.00,597.40 583.80,588.50 638.60,602.20 693.40,598.00" fill="none" stroke="#0000ff" stroke-width="1.45" stroke-linejoin="round"/>
<polyline points="145.40,576.80 200.20,567.40 255.00,548.30 309.80,509.90 364.60,516.90 419.40,536.20 474.20,577.00 529.00,556.30 583.80,587.40 638.60,560.00 693.40,548.00" fill="none" stroke="#ff0000" stroke-width="1.45" stroke-linejoin="round"/>
<polyline points="145.40,408.50 200.20,451.10 255.00,480.70 309.80,472.00 364.60,487.00 419.40,522.20 474.20,571.80 529.00,550.70 583.80,584.10 638.60,554.80 693.40,551.10" fill="none" stroke="#00ff00" stroke-width="1.45" stroke-linejoin="round"/>
<polyline points="145.40,582.50 200.20,565.70 255.00,567.10 309.80,578.40 364.60,573.20 419.40,568.50 474.20,578.70 529.00,560.90 583.80,592.00 638.60,558.50 693.40,583.10" fill="none" stroke="#000000" stroke-width="1.45" stroke-linejoin="round"/>
<polyline points="145.40,576.80 200.20,581.30 255.00,584.90 309.80,580.60 364.60,574.70 419.40,569.30 474.20,578.70" fill="none" stroke="#000000" stroke-width="1.45" stroke-linejoin="round" stroke-dasharray="8.6 8.3"/>
<path d="M458.76,408.14L457.27,406.64L455.03,405.89L452.06,405.89L449.82,406.64L448.33,408.14L448.33,409.63L449.08,411.13L449.82,411.88L451.31,412.62L455.78,414.12L457.27,414.87L458.01,415.62L458.76,417.11L458.76,419.36L457.27,420.85L455.03,421.60L452.06,421.60L449.82,420.85L448.33,419.36M463.97,405.89L463.97,421.60M463.97,405.89L469.18,405.89L471.41,406.64L472.90,408.14L473.65,409.63L474.39,411.88L474.39,415.62L473.65,417.86L472.90,419.36L471.41,420.85L469.18,421.60L463.97,421.60M489.28,408.14L487.79,406.64L485.56,405.89L482.58,405.89L480.35,406.64L478.86,408.14L478.86,409.63L479.60,411.13L480.35,411.88L481.84,412.62L486.30,414.12L487.79,414.87L488.54,415.62L489.28,417.11L489.28,419.36L487.79,420.85L485.56,421.60L482.58,421.60L480.35,420.85L478.86,419.36M504.17,408.14L502.68,406.64L500.45,405.89L497.47,405.89L495.24,406.64L493.75,408.14L493.75,409.63L494.49,411.13L495.24,411.88L496.73,412.62L501.19,414.12L502.68,414.87L503.43,415.62L504.17,417.11L504.17,419.36L502.68,420.85L500.45,421.60L497.47,421.60L495.24,420.85L493.75,419.36M529.48,411.13L529.48,423.84L528.74,426.09L528.00,426.84L526.51,427.58L524.27,427.58L522.78,426.84M529.48,413.37L528.00,411.88L526.51,411.13L524.27,411.13L522.78,411.88L521.29,413.37L520.55,415.62L520.55,417.11L521.29,419.36L522.78,420.85L524.27,421.60L526.51,421.60L528.00,420.85L529.48,419.36M535.44,411.13L535.44,421.60M535.44,415.62L536.18,413.37L537.67,411.88L539.16,411.13L541.40,411.13M544.37,405.89L545.12,406.64L545.86,405.89L545.12,405.14L544.37,405.89M545.12,411.13L545.12,421.60M558.52,411.13L550.33,421.60M550.33,411.13L558.52,411.13M550.33,421.60L558.52,421.60" stroke="#00ff00" stroke-width="1.45" fill="none" stroke-linecap="round" stroke-linejoin="round"/>
<path d="M458.76,436.34L457.27,434.84L455.03,434.09L452.06,434.09L449.82,434.84L448.33,436.34L448.33,437.83L449.08,439.33L449.82,440.08L451.31,440.82L455.78,442.32L457.27,443.07L458.01,443.82L458.76,445.31L458.76,447.56L457.27,449.05L455.03,449.80L452.06,449.80L449.82,449.05L448.33,447.56M463.97,434.09L463.97,449.80M463.97,434.09L469.18,434.09L471.41,434.84L472.90,436.34L473.65,437.83L474.39,440.08L474.39,443.82L473.65,446.06L472.90,447.56L471.41,449.05L469.18,449.80L463.97,449.80M489.28,436.34L487.79,434.84L485.56,434.09L482.58,434.09L480.35,434.84L478.86,436.34L478.86,437.83L479.60,439.33L480.35,440.08L481.84,440.82L486.30,442.32L487.79,443.07L488.54,443.82L489.28,445.31L489.28,447.56L487.79,449.05L485.56,449.80L482.58,449.80L480.35,449.05L478.86,447.56M504.17,436.34L502.68,434.84L500.45,434.09L497.47,434.09L495.24,434.84L493.75,436.34L493.75,437.83L494.49,439.33L495.24,440.08L496.73,440.82L501.19,442.32L502.68,443.07L503.43,443.82L504.17,445.31L504.17,447.56L502.68,449.05L500.45,449.80L497.47,449.80L495.24,449.05L493.75,447.56M521.29,439.33L521.29,446.81L522.04,449.05L523.53,449.80L525.76,449.80L527.25,449.05L529.48,446.81M529.48,439.33L529.48,449.80M543.63,439.33L543.63,452.04L542.88,454.29L542.14,455.04L540.65,455.78L538.42,455.78L536.93,455.04M543.63,441.57L542.14,440.08L540.65,439.33L538.42,439.33L536.93,440.08L535.44,441.57L534.70,443.82L534.70,445.31L535.44,447.56L536.93,449.05L538.42,449.80L540.65,449.80L542.14,449.05L543.63,447.56M549.59,439.33L549.59,449.80M549.59,443.82L550.33,441.57L551.82,440.08L553.31,439.33L555.54,439.33M558.52,434.09L559.26,434.84L560.01,434.09L559.26,433.34L558.52,434.09M559.26,439.33L559.26,449.80M572.67,439.33L564.48,449.80M564.48,439.33L572.67,439.33M564.48,449.80L572.67,449.80" stroke="#ff0000" stroke-width="1.45" fill="none" stroke-linecap="round" stroke-linejoin="round"/>
<path d="M459.50,465.93L458.76,464.44L457.27,462.94L455.78,462.19L452.80,462.19L451.31,462.94L449.82,464.44L449.08,465.93L448.33,468.18L448.33,471.92L449.08,474.16L449.82,475.66L451.31,477.15L452.80,477.90L455.78,477.90L457.27,477.15L458.76,475.66L459.50,474.16L459.50,471.92M455.78,471.92L459.50,471.92M468.44,462.19L462.48,477.90M468.44,462.19L474.39,477.90M464.71,472.66L472.16,472.66M478.11,462.19L478.11,477.90M478.11,477.90L487.05,477.90M490.77,462.19L490.77,477.90M490.77,462.19L500.45,462.19M490.77,469.67L496.73,469.67M490.77,477.90L500.45,477.90M504.17,462.19L514.59,477.90M514.59,462.19L504.17,477.90M538.42,464.44L538.42,477.90M531.72,471.17L545.12,471.17M572.67,464.44L571.18,462.94L568.94,462.19L565.96,462.19L563.73,462.94L562.24,464.44L562.24,465.93L562.99,467.43L563.73,468.18L565.22,468.92L569.69,470.42L571.18,471.17L571.92,471.92L572.67,473.41L572.67,475.66L571.18,477.15L568.94,477.90L565.96,477.90L563.73,477.15L562.24,475.66M577.88,462.19L577.88,477.90M577.88,462.19L583.09,462.19L585.32,462.94L586.81,464.44L587.56,465.93L588.30,468.18L588.30,471.92L587.56,474.16L586.81,475.66L585.32,477.15L583.09,477.90L577.88,477.90M603.19,464.44L601.70,462.94L599.47,462.19L596.49,462.19L594.26,462.94L592.77,464.44L592.77,465.93L593.51,467.43L594.26,468.18L595.74,468.92L600.21,470.42L601.70,471.17L602.45,471.92L603.19,473.41L603.19,475.66L601.70,477.15L599.47,477.90L596.49,477.90L594.26,477.15L592.77,475.66M618.08,464.44L616.59,462.94L614.36,462.19L611.38,462.19L609.15,462.94L607.66,464.44L607.66,465.93L608.40,467.43L609.15,468.18L610.63,468.92L615.10,470.42L616.59,471.17L617.34,471.92L618.08,473.41L618.08,475.66L616.59,477.15L614.36,477.90L611.38,477.90L609.15,477.15L607.66,475.66M643.39,467.43L643.39,480.14L642.65,482.39L641.90,483.14L640.41,483.88L638.18,483.88L636.69,483.14M643.39,469.67L641.90,468.18L640.41,467.43L638.18,467.43L636.69,468.18L635.20,469.67L634.46,471.92L634.46,473.41L635.20,475.66L636.69,477.15L638.18,477.90L640.41,477.90L641.90,477.15L643.39,475.66M649.35,467.43L649.35,477.90M649.35,471.92L650.09,469.67L651.58,468.18L653.07,467.43L655.30,467.43M658.28,462.19L659.03,462.94L659.77,462.19L659.03,461.44L658.28,462.19M659.03,467.43L659.03,477.90M672.43,467.43L664.24,477.90M664.24,467.43L672.43,467.43M664.24,477.90L672.43,477.90" stroke="#000000" stroke-width="1.45" fill="none" stroke-linecap="round" stroke-linejoin="round"/>
<path d="M493.07,490.39L493.07,506.10M493.07,497.87L491.58,496.38L490.09,495.63L487.86,495.63L486.37,496.38L484.88,497.87L484.13,500.12L484.13,501.61L484.88,503.86L486.37,505.35L487.86,506.10L490.09,506.10L491.58,505.35L493.07,503.86M507.21,495.63L507.21,506.10M507.21,497.87L505.72,496.38L504.23,495.63L502.00,495.63L500.51,496.38L499.02,497.87L498.28,500.12L498.28,501.61L499.02,503.86L500.51,505.35L502.00,506.10L504.23,506.10L505.72,505.35L507.21,503.86M520.61,497.87L519.87,496.38L517.64,495.63L515.40,495.63L513.17,496.38L512.42,497.87L513.17,499.37L514.66,500.12L518.38,500.86L519.87,501.61L520.61,503.11L520.61,503.86L519.87,505.35L517.64,506.10L515.40,506.10L513.17,505.35L512.42,503.86M525.83,490.39L525.83,506.10M525.83,498.62L528.06,496.38L529.55,495.63L531.78,495.63L533.27,496.38L534.01,498.62L534.01,506.10M539.23,500.12L548.16,500.12L548.16,498.62L547.42,497.12L546.67,496.38L545.18,495.63L542.95,495.63L541.46,496.38L539.97,497.87L539.23,500.12L539.23,501.61L539.97,503.86L541.46,505.35L542.95,506.10L545.18,506.10L546.67,505.35L548.16,503.86M561.56,490.39L561.56,506.10M561.56,497.87L560.07,496.38L558.58,495.63L556.35,495.63L554.86,496.38L553.37,497.87L552.63,500.12L552.63,501.61L553.37,503.86L554.86,505.35L556.35,506.10L558.58,506.10L560.07,505.35L561.56,503.86M579.43,490.39L579.43,506.10M579.43,490.39L586.13,490.39L588.36,491.14L589.11,491.89L589.85,493.38L589.85,494.88L589.11,496.38L588.36,497.12L586.13,497.87M579.43,497.87L586.13,497.87L588.36,498.62L589.11,499.37L589.85,500.86L589.85,503.11L589.11,504.60L588.36,505.35L586.13,506.10L579.43,506.10M595.06,490.39L595.06,506.10M595.06,490.39L601.76,490.39L604.00,491.14L604.74,491.89L605.49,493.38L605.49,495.63L604.74,497.12L604.00,497.87L601.76,498.62L595.06,498.62M620.38,490.39L609.95,506.10M609.95,490.39L620.38,490.39M609.95,506.10L620.38,506.10M624.84,500.12L633.78,500.12L633.78,498.62L633.03,497.12L632.29,496.38L630.80,495.63L628.57,495.63L627.08,496.38L625.59,497.87L624.84,500.12L624.84,501.61L625.59,503.86L627.08,505.35L628.57,506.10L630.80,506.10L632.29,505.35L633.78,503.86M638.99,490.39L638.99,506.10M638.99,497.87L640.48,496.38L641.97,495.63L644.20,495.63L645.69,496.38L647.18,497.87L647.92,500.12L647.92,501.61L647.18,503.86L645.69,505.35L644.20,506.10L641.97,506.10L640.48,505.35L638.99,503.86M653.13,495.63L653.13,506.10M653.13,500.12L653.88,497.87L655.37,496.38L656.86,495.63L659.09,495.63M671.00,495.63L671.00,506.10M671.00,497.87L669.51,496.38L668.02,495.63L665.79,495.63L664.30,496.38L662.81,497.87L662.07,500.12L662.07,501.61L662.81,503.86L664.30,505.35L665.79,506.10L668.02,506.10L669.51,505.35L671.00,503.86" stroke="#000000" stroke-width="1.45" fill="none" stroke-linecap="round" stroke-linejoin="round"/>
<path d="M452.80,518.59L446.84,534.30M452.80,518.59L458.76,534.30M449.08,529.06L456.52,529.06M462.48,518.59L462.48,534.30M462.48,518.59L472.90,534.30M472.90,518.59L472.90,534.30M478.86,518.59L478.86,534.30M478.86,518.59L489.28,534.30M489.28,518.59L489.28,534.30M502.68,523.83L494.49,534.30M494.49,523.83L502.68,523.83M494.49,534.30L502.68,534.30M509.38,533.55L508.64,534.30L507.89,533.55L508.64,532.80L509.38,533.55L509.38,535.05L508.64,536.54L507.89,537.29M536.93,520.84L535.44,519.34L533.21,518.59L530.23,518.59L528.00,519.34L526.51,520.84L526.51,522.33L527.25,523.83L528.00,524.58L529.48,525.32L533.95,526.82L535.44,527.57L536.18,528.32L536.93,529.81L536.93,532.06L535.44,533.55L533.21,534.30L530.23,534.30L528.00,533.55L526.51,532.06M542.14,518.59L542.14,534.30M542.14,518.59L547.35,518.59L549.59,519.34L551.07,520.84L551.82,522.33L552.56,524.58L552.56,528.32L551.82,530.56L551.07,532.06L549.59,533.55L547.35,534.30L542.14,534.30M567.45,520.84L565.96,519.34L563.73,518.59L560.75,518.59L558.52,519.34L557.03,520.84L557.03,522.33L557.78,523.83L558.52,524.58L560.01,525.32L564.48,526.82L565.96,527.57L566.71,528.32L567.45,529.81L567.45,532.06L565.96,533.55L563.73,534.30L560.75,534.30L558.52,533.55L557.03,532.06M582.34,520.84L580.85,519.34L578.62,518.59L575.64,518.59L573.41,519.34L571.92,520.84L571.92,522.33L572.67,523.83L573.41,524.58L574.90,525.32L579.37,526.82L580.85,527.57L581.60,528.32L582.34,529.81L582.34,532.06L580.85,533.55L578.62,534.30L575.64,534.30L573.41,533.55L571.92,532.06M599.47,523.83L599.47,531.31L600.21,533.55L601.70,534.30L603.93,534.30L605.42,533.55L607.66,531.31M607.66,523.83L607.66,534.30M621.80,523.83L621.80,536.54L621.06,538.79L620.31,539.54L618.82,540.28L616.59,540.28L615.10,539.54M621.80,526.07L620.31,524.58L618.82,523.83L616.59,523.83L615.10,524.58L613.61,526.07L612.87,528.32L612.87,529.81L613.61,532.06L615.10,533.55L616.59,534.30L618.82,534.30L620.31,533.55L621.80,532.06M627.76,523.83L627.76,534.30M627.76,528.32L628.50,526.07L629.99,524.58L631.48,523.83L633.71,523.83M636.69,518.59L637.44,519.34L638.18,518.59L637.44,517.84L636.69,518.59M637.44,523.83L637.44,534.30M650.84,523.83L642.65,534.30M642.65,523.83L650.84,523.83M642.65,534.30L650.84,534.30" stroke="#0000ff" stroke-width="1.45" fill="none" stroke-linecap="round" stroke-linejoin="round"/>
</g>
<g id="panel-hist">
<path d="M128.96,966.15v-2.60M128.96,731.18v2.60M139.92,966.15v-2.60M139.92,731.18v2.60M150.88,966.15v-2.60M150.88,731.18v2.60M161.84,966.15v-2.60M161.84,731.18v2.60M172.80,966.15v-2.60M172.80,731.18v2.60M183.76,966.15v-2.60M183.76,731.18v2.60M194.72,966.15v-2.60M194.72,731.18v2.60M205.68,966.15v-2.60M205.68,731.18v2.60M216.64,966.15v-2.60M216.64,731.18v2.60M227.60,966.15v-4.90M227.60,731.18v4.90M238.56,966.15v-2.60M238.56,731.18v2.60M249.52,966.15v-2.60M249.52,731.18v2.60M260.48,966.15v-2.60M260.48,731.18v2.60M271.44,966.15v-2.60M271.44,731.18v2.60M282.40,966.15v-2.60M282.40,731.18v2.60M293.36,966.15v-2.60M293.36,731.18v2.60M304.32,966.15v-2.60M304.32,731.18v2.60M315.28,966.15v-2.60M315.28,731.18v2.60M326.24,966.15v-2.60M326.24,731.18v2.60M337.20,966.15v-4.90M337.20,731.18v4.90M348.16,966.15v-2.60M348.16,731.18v2.60M359.12,966.15v-2.60M359.12,731.18v2.60M370.08,966.15v-2.60M370.08,731.18v2.60M381.04,966.15v-2.60M381.04,731.18v2.60M392.00,966.15v-2.60M392.00,731.18v2.60M402.96,966.15v-2.60M402.96,731.18v2.60M413.92,966.15v-2.60M413.92,731.18v2.60M424.88,966.15v-2.60M424.88,731.18v2.60M435.84,966.15v-2.60M435.84,731.18v2.60M446.80,966.15v-4.90M446.80,731.18v4.90M457.76,966.15v-2.60M457.76,731.18v2.60M468.72,966.15v-2.60M468.72,731.18v2.60M479.68,966.15v-2.60M479.68,731.18v2.60M490.64,966.15v-2.60M490.64,731.18v2.60M501.60,966.15v-2.60M501.60,731.18v2.60M512.56,966.15v-2.60M512.56,731.18v2.60M523.52,966.15v-2.60M523.52,731.18v2.60M534.48,966.15v-2.60M534.48,731.18v2.60M545.44,966.15v-2.60M545.44,731.18v2.60M556.40,966.15v-4.90M556.40,731.18v4.90M567.36,966.15v-2.60M567.36,731.18v2.60M578.32,966.15v-2.60M578.32,731.18v2.60M589.28,966.15v-2.60M589.28,731.18v2.60M600.24,966.15v-2.60M600.24,731.18v2.60M611.20,966.15v-2.60M611.20,731.18v2.60M622.16,966.15v-2.60M622.16,731.18v2.60M633.12,966.15v-2.60M633.12,731.18v2.60M644.08,966.15v-2.60M644.08,731.18v2.60M655.04,966.15v-2.60M655.04,731.18v2.60M666.00,966.15v-4.90M666.00,731.18v4.90M676.96,966.15v-2.60M676.96,731.18v2.60M687.92,966.15v-2.60M687.92,731.18v2.60M698.88,966.15v-2.60M698.88,731.18v2.60M709.84,966.15v-2.60M709.84,731.18v2.60M118.00,954.40h6.10M720.80,954.40h-6.10M118.00,942.65h6.10M720.80,942.65h-6.10M118.00,930.90h6.10M720.80,930.90h-6.10M118.00,919.16h12.40M720.80,919.16h-12.40M118.00,907.41h6.10M720.80,907.41h-6.10M118.00,895.66h6.10M720.80,895.66h-6.10M118.00,883.91h6.10M720.80,883.91h-6.10M118.00,872.16h12.40M720.80,872.16h-12.40M118.00,860.41h6.10M720.80,860.41h-6.10M118.00,848.66h6.10M720.80,848.66h-6.10M118.00,836.92h6.10M720.80,836.92h-6.10M118.00,825.17h12.40M720.80,825.17h-12.40M118.00,813.42h6.10M720.80,813.42h-6.10M118.00,801.67h6.10M720.80,801.67h-6.10M118.00,789.92h6.10M720.80,789.92h-6.10M118.00,778.17h12.40M720.80,778.17h-12.40M118.00,766.43h6.10M720.80,766.43h-6.10M118.00,754.68h6.10M720.80,754.68h-6.10M118.00,742.93h6.10M720.80,742.93h-6.10" stroke="#000" stroke-width="1.25" fill="none"/>
<rect x="118.0" y="731.18" width="602.80" height="234.97" fill="none" stroke="#000" stroke-width="1.5" stroke-linejoin="round"/>
<path d="M107.63,981.07L105.76,981.69L104.52,983.56L103.89,986.67L103.89,988.54L104.52,991.66L105.76,993.53L107.63,994.15L108.88,994.15L110.75,993.53L111.99,991.66L112.62,988.54L112.62,986.67L111.99,983.56L110.75,981.69L108.88,981.07L107.63,981.07M117.60,992.90L116.98,993.53L117.60,994.15L118.22,993.53L117.60,992.90M126.32,981.07L124.45,981.69L123.21,983.56L122.58,986.67L122.58,988.54L123.21,991.66L124.45,993.53L126.32,994.15L127.57,994.15L129.44,993.53L130.68,991.66L131.31,988.54L131.31,986.67L130.68,983.56L129.44,981.69L127.57,981.07L126.32,981.07M217.23,981.07L215.36,981.69L214.12,983.56L213.49,986.67L213.49,988.54L214.12,991.66L215.36,993.53L217.23,994.15L218.48,994.15L220.35,993.53L221.59,991.66L222.22,988.54L222.22,986.67L221.59,983.56L220.35,981.69L218.48,981.07L217.23,981.07M227.20,992.90L226.58,993.53L227.20,994.15L227.82,993.53L227.20,992.90M234.05,983.56L235.30,982.94L237.17,981.07L237.17,994.15M326.83,981.07L324.96,981.69L323.72,983.56L323.09,986.67L323.09,988.54L323.72,991.66L324.96,993.53L326.83,994.15L328.08,994.15L329.95,993.53L331.19,991.66L331.82,988.54L331.82,986.67L331.19,983.56L329.95,981.69L328.08,981.07L326.83,981.07M336.80,992.90L336.18,993.53L336.80,994.15L337.42,993.53L336.80,992.90M342.41,984.18L342.41,983.56L343.03,982.31L343.65,981.69L344.90,981.07L347.39,981.07L348.64,981.69L349.26,982.31L349.88,983.56L349.88,984.80L349.26,986.05L348.01,987.92L341.78,994.15L350.51,994.15M436.43,981.07L434.56,981.69L433.32,983.56L432.69,986.67L432.69,988.54L433.32,991.66L434.56,993.53L436.43,994.15L437.68,994.15L439.55,993.53L440.79,991.66L441.42,988.54L441.42,986.67L440.79,983.56L439.55,981.69L437.68,981.07L436.43,981.07M446.40,992.90L445.78,993.53L446.40,994.15L447.02,993.53L446.40,992.90M452.63,981.07L459.48,981.07L455.75,986.05L457.61,986.05L458.86,986.67L459.48,987.30L460.11,989.17L460.11,990.41L459.48,992.28L458.24,993.53L456.37,994.15L454.50,994.15L452.63,993.53L452.01,992.90L451.38,991.66M546.03,981.07L544.16,981.69L542.92,983.56L542.29,986.67L542.29,988.54L542.92,991.66L544.16,993.53L546.03,994.15L547.28,994.15L549.15,993.53L550.39,991.66L551.02,988.54L551.02,986.67L550.39,983.56L549.15,981.69L547.28,981.07L546.03,981.07M556.00,992.90L555.38,993.53L556.00,994.15L556.62,993.53L556.00,992.90M567.21,981.07L560.98,989.79L570.33,989.79M567.21,981.07L567.21,994.15M655.63,981.07L653.76,981.69L652.52,983.56L651.89,986.67L651.89,988.54L652.52,991.66L653.76,993.53L655.63,994.15L656.88,994.15L658.75,993.53L659.99,991.66L660.62,988.54L660.62,986.67L659.99,983.56L658.75,981.69L656.88,981.07L655.63,981.07M665.60,992.90L664.98,993.53L665.60,994.15L666.22,993.53L665.60,992.90M678.06,981.07L671.83,981.07L671.21,986.67L671.83,986.05L673.70,985.43L675.57,985.43L677.44,986.05L678.68,987.30L679.31,989.17L679.31,990.41L678.68,992.28L677.44,993.53L675.57,994.15L673.70,994.15L671.83,993.53L671.21,992.90L670.58,991.66M405.39,1009.83L398.54,1018.55M398.54,1009.83L405.39,1009.83M398.54,1018.55L405.39,1018.55M409.13,1018.92L419.10,1018.92M427.82,1011.70L427.20,1010.45L425.33,1009.83L423.46,1009.83L421.59,1010.45L420.97,1011.70L421.59,1012.94L422.84,1013.57L425.95,1014.19L427.20,1014.81L427.82,1016.06L427.82,1016.68L427.20,1017.93L425.33,1018.55L423.46,1018.55L421.59,1017.93L420.97,1016.68M432.18,1009.83L432.18,1023.53M432.18,1011.70L433.43,1010.45L434.67,1009.83L436.54,1009.83L437.79,1010.45L439.04,1011.70L439.66,1013.57L439.66,1014.81L439.04,1016.68L437.79,1017.93L436.54,1018.55L434.67,1018.55L433.43,1017.93L432.18,1016.68M104.65,953.37L102.78,953.99L101.53,955.86L100.91,958.97L100.91,960.84L101.53,963.96L102.78,965.83L104.65,966.45L105.89,966.45L107.76,965.83L109.01,963.96L109.63,960.84L109.63,958.97L109.01,955.86L107.76,953.99L105.89,953.37L104.65,953.37M76.61,916.79L76.61,916.16L77.23,914.92L77.86,914.30L79.10,913.67L81.60,913.67L82.84,914.30L83.47,914.92L84.09,916.16L84.09,917.41L83.47,918.66L82.22,920.53L75.99,926.76L84.71,926.76M92.19,913.67L90.32,914.30L89.07,916.16L88.45,919.28L88.45,921.15L89.07,924.26L90.32,926.13L92.19,926.76L93.43,926.76L95.30,926.13L96.55,924.26L97.17,921.15L97.17,919.28L96.55,916.16L95.30,914.30L93.43,913.67L92.19,913.67M104.65,913.67L102.78,914.30L101.53,916.16L100.91,919.28L100.91,921.15L101.53,924.26L102.78,926.13L104.65,926.76L105.89,926.76L107.76,926.13L109.01,924.26L109.63,921.15L109.63,919.28L109.01,916.16L107.76,914.30L105.89,913.67L104.65,913.67M82.22,866.68L75.99,875.40L85.33,875.40M82.22,866.68L82.22,879.76M92.19,866.68L90.32,867.30L89.07,869.17L88.45,872.29L88.45,874.16L89.07,877.27L90.32,879.14L92.19,879.76L93.43,879.76L95.30,879.14L96.55,877.27L97.17,874.16L97.17,872.29L96.55,869.17L95.30,867.30L93.43,866.68L92.19,866.68M104.65,866.68L102.78,867.30L101.53,869.17L100.91,872.29L100.91,874.16L101.53,877.27L102.78,879.14L104.65,879.76L105.89,879.76L107.76,879.14L109.01,877.27L109.63,874.16L109.63,872.29L109.01,869.17L107.76,867.30L105.89,866.68L104.65,866.68M84.09,821.55L83.47,820.31L81.60,819.69L80.35,819.69L78.48,820.31L77.23,822.18L76.61,825.29L76.61,828.41L77.23,830.90L78.48,832.14L80.35,832.77L80.97,832.77L82.84,832.14L84.09,830.90L84.71,829.03L84.71,828.41L84.09,826.54L82.84,825.29L80.97,824.67L80.35,824.67L78.48,825.29L77.23,826.54L76.61,828.41M92.19,819.69L90.32,820.31L89.07,822.18L88.45,825.29L88.45,827.16L89.07,830.28L90.32,832.14L92.19,832.77L93.43,832.77L95.30,832.14L96.55,830.28L97.17,827.16L97.17,825.29L96.55,822.18L95.30,820.31L93.43,819.69L92.19,819.69M104.65,819.69L102.78,820.31L101.53,822.18L100.91,825.29L100.91,827.16L101.53,830.28L102.78,832.14L104.65,832.77L105.89,832.77L107.76,832.14L109.01,830.28L109.63,827.16L109.63,825.29L109.01,822.18L107.76,820.31L105.89,819.69L104.65,819.69M79.10,772.69L77.23,773.31L76.61,774.56L76.61,775.81L77.23,777.05L78.48,777.67L80.97,778.30L82.84,778.92L84.09,780.17L84.71,781.41L84.71,783.28L84.09,784.53L83.47,785.15L81.60,785.77L79.10,785.77L77.23,785.15L76.61,784.53L75.99,783.28L75.99,781.41L76.61,780.17L77.86,778.92L79.73,778.30L82.22,777.67L83.47,777.05L84.09,775.81L84.09,774.56L83.47,773.31L81.60,772.69L79.10,772.69M92.19,772.69L90.32,773.31L89.07,775.18L88.45,778.30L88.45,780.17L89.07,783.28L90.32,785.15L92.19,785.77L93.43,785.77L95.30,785.15L96.55,783.28L97.17,780.17L97.17,778.30L96.55,775.18L95.30,773.31L93.43,772.69L92.19,772.69M104.65,772.69L102.78,773.31L101.53,775.18L100.91,778.30L100.91,780.17L101.53,783.28L102.78,785.15L104.65,785.77L105.89,785.77L107.76,785.15L109.01,783.28L109.63,780.17L109.63,778.30L109.01,775.18L107.76,773.31L105.89,772.69L104.65,772.69M65.40,733.59L66.64,732.97L68.51,731.10L68.51,744.18M79.73,731.10L77.86,731.72L76.61,733.59L75.99,736.70L75.99,738.57L76.61,741.69L77.86,743.56L79.73,744.18L80.97,744.18L82.84,743.56L84.09,741.69L84.71,738.57L84.71,736.70L84.09,733.59L82.84,731.72L80.97,731.10L79.73,731.10M92.19,731.10L90.32,731.72L89.07,733.59L88.45,736.70L88.45,738.57L89.07,741.69L90.32,743.56L92.19,744.18L93.43,744.18L95.30,743.56L96.55,741.69L97.17,738.57L97.17,736.70L96.55,733.59L95.30,731.72L93.43,731.10L92.19,731.10M104.65,731.10L102.78,731.72L101.53,733.59L100.91,736.70L100.91,738.57L101.53,741.69L102.78,743.56L104.65,744.18L105.89,744.18L107.76,743.56L109.01,741.69L109.63,738.57L109.63,736.70L109.01,733.59L107.76,731.72L105.89,731.10L104.65,731.10M36.18,919.13L46.77,919.13L48.64,919.75L49.26,920.38L49.88,921.62L49.88,923.49L49.26,924.74M38.05,919.13L36.80,920.38L36.18,921.62L36.18,923.49L36.80,924.74L38.05,925.98L39.92,926.61L41.16,926.61L43.03,925.98L44.28,924.74L44.90,923.49L44.90,921.62L44.28,920.38L43.03,919.13M36.18,907.29L44.90,907.29M38.05,907.29L36.80,908.54L36.18,909.78L36.18,911.65L36.80,912.90L38.05,914.15L39.92,914.77L41.16,914.77L43.03,914.15L44.28,912.90L44.90,911.65L44.90,909.78L44.28,908.54L43.03,907.29M31.82,902.31L44.90,902.31M36.18,890.47L44.90,890.47M38.05,890.47L36.80,891.72L36.18,892.96L36.18,894.83L36.80,896.08L38.05,897.32L39.92,897.95L41.16,897.95L43.03,897.32L44.28,896.08L44.90,894.83L44.90,892.96L44.28,891.72L43.03,890.47M36.18,886.11L44.90,879.26M36.18,879.26L44.90,886.11M31.82,875.52L32.44,874.90L31.82,874.27L31.19,874.90L31.82,875.52M36.18,874.90L44.90,874.90M39.92,870.54L39.92,863.06L38.67,863.06L37.42,863.68L36.80,864.31L36.18,865.55L36.18,867.42L36.80,868.67L38.05,869.91L39.92,870.54L41.16,870.54L43.03,869.91L44.28,868.67L44.90,867.42L44.90,865.55L44.28,864.31L43.03,863.06M38.05,852.47L36.80,853.09L36.18,854.96L36.18,856.83L36.80,858.70L38.05,859.32L39.29,858.70L39.92,857.45L40.54,854.34L41.16,853.09L42.41,852.47L43.03,852.47L44.28,853.09L44.90,854.96L44.90,856.83L44.28,858.70L43.03,859.32M36.18,838.14L49.88,838.14M38.05,838.14L36.80,836.89L36.18,835.65L36.18,833.78L36.80,832.53L38.05,831.29L39.92,830.66L41.16,830.66L43.03,831.29L44.28,832.53L44.90,833.78L44.90,835.65L44.28,836.89L43.03,838.14M39.92,826.93L39.92,819.45L38.67,819.45L37.42,820.07L36.80,820.70L36.18,821.94L36.18,823.81L36.80,825.06L38.05,826.30L39.92,826.93L41.16,826.93L43.03,826.30L44.28,825.06L44.90,823.81L44.90,821.94L44.28,820.70L43.03,819.45M36.18,815.09L44.90,815.09M39.92,815.09L38.05,814.47L36.80,813.22L36.18,811.97L36.18,810.10M31.82,797.02L44.90,797.02M38.05,797.02L36.80,795.78L36.18,794.53L36.18,792.66L36.80,791.41L38.05,790.17L39.92,789.55L41.16,789.55L43.03,790.17L44.28,791.41L44.90,792.66L44.90,794.53L44.28,795.78L43.03,797.02M31.82,785.81L32.44,785.18L31.82,784.56L31.19,785.18L31.82,785.81M36.18,785.18L44.90,785.18M36.18,780.20L44.90,780.20M38.67,780.20L36.80,778.33L36.18,777.09L36.18,775.22L36.80,773.97L38.67,773.35L44.90,773.35" stroke="#000" stroke-width="1.3" fill="none" stroke-linecap="round" stroke-linejoin="round"/>
<path d="M118.00,909.50H172.80V737.90H227.60V775.00H282.40V863.10H337.20V924.80H392.00V937.90H446.80V936.70H501.60V946.00H556.40V952.40H611.20V959.50H666.00V963.30H720.80" fill="none" stroke="#000000" stroke-width="1.45" stroke-linejoin="miter"/>
<path d="M118.00,914.30H172.80V756.90H227.60V812.40H282.40V890.60H337.20V941.00H392.00V955.90H446.80V958.50H501.60V962.95H556.40V964.80H611.20V965.10H666.00V965.40H720.80" fill="none" stroke="#ff0000" stroke-width="1.45" stroke-linejoin="miter"/>
<path d="M452.80,809.29L446.84,825.00M452.80,809.29L458.76,825.00M449.08,819.76L456.52,819.76M462.48,809.29L462.48,825.00M468.44,809.29L468.44,825.00M496.73,813.03L495.98,811.54L494.49,810.04L493.00,809.29L490.03,809.29L488.54,810.04L487.05,811.54L486.30,813.03L485.56,815.28L485.56,819.02L486.30,821.26L487.05,822.76L488.54,824.25L490.03,825.00L493.00,825.00L494.49,824.25L495.98,822.76L496.73,821.26L496.73,819.02M493.00,819.02L496.73,819.02M510.13,814.53L510.13,825.00M510.13,816.77L508.64,815.28L507.15,814.53L504.92,814.53L503.43,815.28L501.94,816.77L501.19,819.02L501.19,820.51L501.94,822.76L503.43,824.25L504.92,825.00L507.15,825.00L508.64,824.25L510.13,822.76M516.08,809.29L516.08,825.00M530.23,814.53L530.23,825.00M530.23,816.77L528.74,815.28L527.25,814.53L525.02,814.53L523.53,815.28L522.04,816.77L521.29,819.02L521.29,820.51L522.04,822.76L523.53,824.25L525.02,825.00L527.25,825.00L528.74,824.25L530.23,822.76M535.44,814.53L543.63,825.00M543.63,814.53L535.44,825.00M548.10,809.29L548.84,810.04L549.59,809.29L548.84,808.54L548.10,809.29M548.84,814.53L548.84,825.00M554.05,819.02L562.99,819.02L562.99,817.52L562.24,816.02L561.50,815.28L560.01,814.53L557.78,814.53L556.29,815.28L554.80,816.77L554.05,819.02L554.05,820.51L554.80,822.76L556.29,824.25L557.78,825.00L560.01,825.00L561.50,824.25L562.99,822.76M575.64,816.77L574.90,815.28L572.67,814.53L570.43,814.53L568.20,815.28L567.45,816.77L568.20,818.27L569.69,819.02L573.41,819.76L574.90,820.51L575.64,822.01L575.64,822.76L574.90,824.25L572.67,825.00L570.43,825.00L568.20,824.25L567.45,822.76" stroke="#000000" stroke-width="1.45" fill="none" stroke-linecap="round" stroke-linejoin="round"/>
<path d="M459.50,860.03L458.76,858.54L457.27,857.04L455.78,856.29L452.80,856.29L451.31,857.04L449.82,858.54L449.08,860.03L448.33,862.28L448.33,866.02L449.08,868.26L449.82,869.76L451.31,871.25L452.80,872.00L455.78,872.00L457.27,871.25L458.76,869.76L459.50,868.26L459.50,866.02M455.78,866.02L459.50,866.02M468.44,856.29L462.48,872.00M468.44,856.29L474.39,872.00M464.71,866.76L472.16,866.76M478.11,856.29L478.11,872.00M478.11,872.00L487.05,872.00M490.77,856.29L490.77,872.00M490.77,856.29L500.45,856.29M490.77,863.77L496.73,863.77M490.77,872.00L500.45,872.00M504.17,856.29L514.59,872.00M514.59,856.29L504.17,872.00M539.91,856.29L539.91,872.00M539.91,863.77L538.42,862.28L536.93,861.53L534.70,861.53L533.21,862.28L531.72,863.77L530.97,866.02L530.97,867.51L531.72,869.76L533.21,871.25L534.70,872.00L536.93,872.00L538.42,871.25L539.91,869.76M545.12,866.02L554.05,866.02L554.05,864.52L553.31,863.02L552.56,862.28L551.07,861.53L548.84,861.53L547.35,862.28L545.86,863.77L545.12,866.02L545.12,867.51L545.86,869.76L547.35,871.25L548.84,872.00L551.07,872.00L552.56,871.25L554.05,869.76M560.01,856.29L560.01,869.01L560.75,871.25L562.24,872.00L563.73,872.00M557.78,861.53L562.99,861.53M567.45,866.02L576.39,866.02L576.39,864.52L575.64,863.02L574.90,862.28L573.41,861.53L571.18,861.53L569.69,862.28L568.20,863.77L567.45,866.02L567.45,867.51L568.20,869.76L569.69,871.25L571.18,872.00L573.41,872.00L574.90,871.25L576.39,869.76M589.79,863.77L588.30,862.28L586.81,861.53L584.58,861.53L583.09,862.28L581.60,863.77L580.85,866.02L580.85,867.51L581.60,869.76L583.09,871.25L584.58,872.00L586.81,872.00L588.30,871.25L589.79,869.76M595.74,856.29L595.74,869.01L596.49,871.25L597.98,872.00L599.47,872.00M593.51,861.53L598.72,861.53M603.19,856.29L603.93,857.04L604.68,856.29L603.93,855.54L603.19,856.29M603.93,861.53L603.93,872.00M612.87,861.53L611.38,862.28L609.89,863.77L609.15,866.02L609.15,867.51L609.89,869.76L611.38,871.25L612.87,872.00L615.10,872.00L616.59,871.25L618.08,869.76L618.82,867.51L618.82,866.02L618.08,863.77L616.59,862.28L615.10,861.53L612.87,861.53M624.04,861.53L624.04,872.00M624.04,864.52L626.27,862.28L627.76,861.53L629.99,861.53L631.48,862.28L632.23,864.52L632.23,872.00M645.63,863.77L644.88,862.28L642.65,861.53L640.41,861.53L638.18,862.28L637.44,863.77L638.18,865.27L639.67,866.02L643.39,866.76L644.88,867.51L645.63,869.01L645.63,869.76L644.88,871.25L642.65,872.00L640.41,872.00L638.18,871.25L637.44,869.76" stroke="#ff0000" stroke-width="1.45" fill="none" stroke-linecap="round" stroke-linejoin="round"/>
</g>
<g class="sr" aria-label="chart text">
<text class="sr" x="20" y="156.85">mean(dz)</text>
<text class="sr" x="400" y="323.82">z_sp</text>
<text class="sr" x="20" y="504.0">standard deviation(dz)</text>
<text class="sr" x="400" y="670.97">z_sp</text>
<text class="sr" x="20" y="851.18">galaxies per bin</text>
<text class="sr" x="400" y="1018.15">z_sp</text>
<text class="sr" x="446" y="68.85">SDSS griz</text>
<text class="sr" x="446" y="98.85">SDSS ugriz</text>
<text class="sr" x="446" y="128.85">GALEX + SDSS griz</text>
<text class="sr" x="446" y="158.85">dashed BPZebra</text>
<text class="sr" x="446" y="188.85">ANNz, SDSS ugriz</text>
<text class="sr" x="446" y="416.0">SDSS griz</text>
<text class="sr" x="446" y="446.0">SDSS ugriz</text>
<text class="sr" x="446" y="476.0">GALEX + SDSS griz</text>
<text class="sr" x="446" y="506.0">dashed BPZebra</text>
<text class="sr" x="446" y="536.0">ANNz, SDSS ugriz</text>
<text class="sr" x="446" y="825">All Galaxies</text>
<text class="sr" x="446" y="872">GALEX detections</text>
<text class="sr" x="106.0" y="299.8">0.0</text>
<text class="sr" x="215.6" y="299.8">0.1</text>
<text class="sr" x="325.2" y="299.8">0.2</text>
<text class="sr" x="434.8" y="299.8">0.3</text>
<text class="sr" x="544.4" y="299.8">0.4</text>
<text class="sr" x="654.0" y="299.8">0.5</text>
<text class="sr" x="106.0" y="647.0">0.0</text>
<text class="sr" x="215.6" y="647.0">0.1</text>
<text class="sr" x="325.2" y="647.0">0.2</text>
<text class="sr" x="434.8" y="647.0">0.3</text>
<text class="sr" x="544.4" y="647.0">0.4</text>
<text class="sr" x="654.0" y="647.0">0.5</text>
<text class="sr" x="106.0" y="994.1">0.0</text>
<text class="sr" x="215.6" y="994.1">0.1</text>
<text class="sr" x="325.2" y="994.1">0.2</text>
<text class="sr" x="434.8" y="994.1">0.3</text>
<text class="sr" x="544.4" y="994.1">0.4</text>
<text class="sr" x="654.0" y="994.1">0.5</text>
<text class="sr" x="70" y="49.9">0.25</text>
<text class="sr" x="70" y="86.8">0.20</text>
<text class="sr" x="70" y="123.8">0.15</text>
<text class="sr" x="70" y="160.8">0.10</text>
<text class="sr" x="70" y="197.8">0.05</text>
<text class="sr" x="70" y="234.8">0.00</text>
<text class="sr" x="70" y="271.8">-0.05</text>
<text class="sr" x="70" y="397.0">0.25</text>
<text class="sr" x="70" y="441.4">0.20</text>
<text class="sr" x="70" y="485.8">0.15</text>
<text class="sr" x="70" y="530.2">0.10</text>
<text class="sr" x="70" y="574.6">0.05</text>
<text class="sr" x="70" y="619.0">0.00</text>
<text class="sr" x="70" y="744.2">1000</text>
<text class="sr" x="70" y="788.6">800</text>
<text class="sr" x="70" y="833.0">600</text>
<text class="sr" x="70" y="877.4">400</text>
<text class="sr" x="70" y="921.8">200</text>
<text class="sr" x="70" y="966.1">0</text>
</g>
</svg></body></html>
